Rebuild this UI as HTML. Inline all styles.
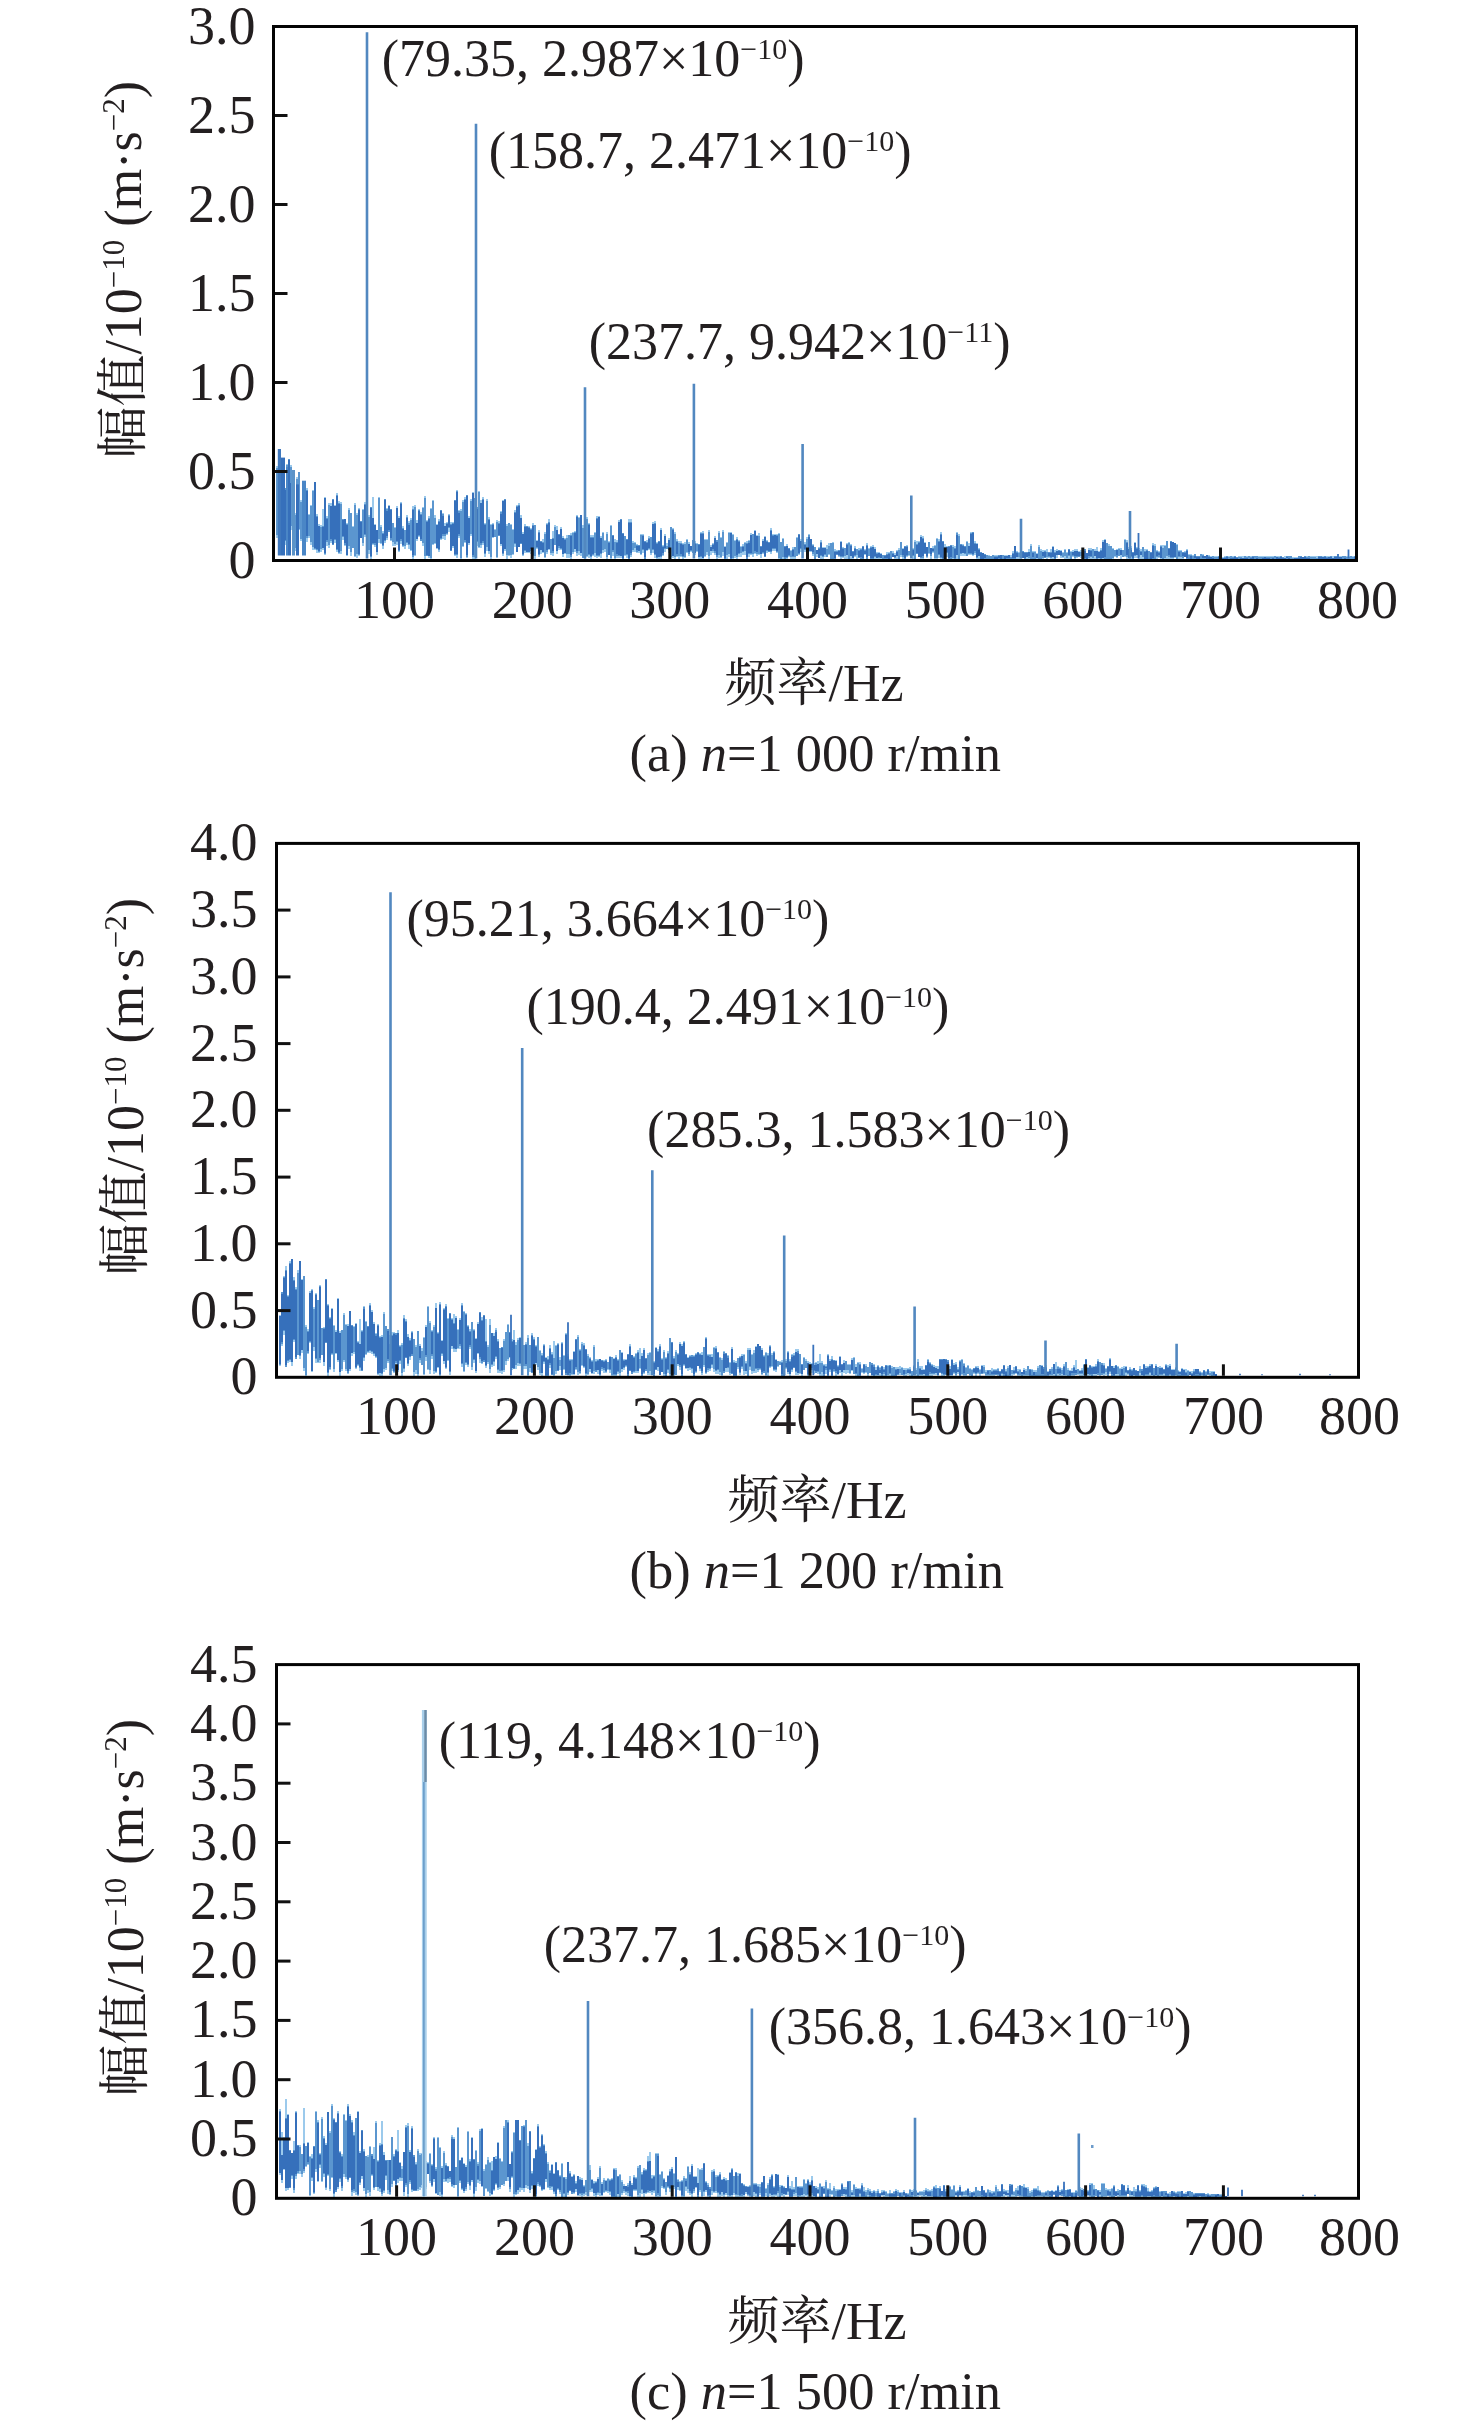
<!DOCTYPE html>
<html><head><meta charset="utf-8"><title>spectrum</title>
<style>html,body{margin:0;padding:0;background:#fff;overflow:hidden}svg{display:block;will-change:transform}</style></head>
<body><svg width="1476" height="2425" viewBox="0 0 1476 2425" font-family="'Liberation Serif', 'Noto Serif CJK SC', serif" fill="#231f20">
<rect width="1476" height="2425" fill="#fff"/>
<path d="M277.0 538.2V466.2M279.0 530.8V499.0M281.0 527.6V499.5M283.0 546.5V470.4M285.0 544.9V488.0M287.0 530.8V464.1M289.0 527.9V459.2M291.0 529.8V464.9M293.0 553.1V521.4M295.0 551.4V513.4M297.0 531.3V476.8M299.0 530.4V472.4M301.0 541.1V499.9M303.0 536.7V505.9M305.0 526.0V508.9M307.0 541.6V488.0M309.0 538.3V513.6M311.0 545.2V505.0M313.0 549.8V490.2M315.0 550.0V482.1M317.0 552.7V514.2M319.0 553.0V524.2M321.0 552.3V525.1M321.0 547.7V526.6M323.0 549.8V509.3M325.0 554.8V496.5M327.0 545.6V516.1M329.0 547.6V502.9M331.0 542.6V503.3M333.0 545.2V498.9M335.0 543.1V504.9M337.0 552.2V493.2M339.0 554.2V501.4M341.0 554.1V502.2M343.0 539.8V518.9M345.0 545.9V518.8M347.0 556.2V522.8M349.0 548.9V508.1M351.0 555.8V512.8M353.0 548.1V526.1M355.0 556.5V503.2M357.0 557.6V513.1M359.0 556.2V507.6M361.0 538.4V520.6M363.0 545.9V508.5M365.0 536.8V502.2M367.0 530.7V507.8M369.0 553.8V515.2M369.0 548.6V518.4M371.0 558.7V507.1M373.0 544.8V497.1M375.0 547.1V524.0M377.0 555.4V529.6M379.0 543.3V497.1M381.0 543.8V525.1M381.0 542.8V527.6M383.0 549.0V531.4M385.0 543.1V498.7M387.0 539.6V508.4M389.0 532.4V504.7M391.0 540.9V508.7M393.0 545.7V522.5M395.0 546.1V526.6M397.0 545.3V505.8M399.0 551.7V515.6M401.0 544.1V501.7M403.0 546.7V526.3M405.0 548.9V529.8M407.0 544.6V514.9M409.0 549.1V521.1M411.0 551.1V518.2M413.0 558.7V505.6M415.0 556.0V504.8M417.0 540.6V520.3M419.0 536.6V508.6M421.0 541.4V512.0M423.0 546.0V506.7M423.0 542.4V509.5M425.0 558.7V495.9M427.0 556.4V519.7M429.0 557.9V516.0M431.0 558.7V508.3M431.0 556.8V509.4M433.0 544.5V500.1M435.0 544.0V515.4M437.0 548.5V524.0M439.0 551.8V519.0M441.0 540.2V509.6M443.0 538.7V512.9M445.0 539.5V523.4M447.0 535.3V522.0M449.0 532.1V514.1M451.0 551.2V522.1M453.0 547.9V521.7M455.0 555.8V499.8M457.0 557.6V489.5M459.0 538.3V510.4M461.0 558.7V508.7M463.0 547.0V500.2M465.0 542.8V497.4M467.0 557.8V494.8M469.0 544.7V515.6M471.0 535.5V498.7M473.0 558.7V491.7M475.0 558.7V497.6M477.0 545.7V506.7M479.0 548.0V491.3M481.0 548.0V500.0M483.0 544.8V497.0M485.0 556.9V523.0M487.0 550.9V498.8M489.0 553.5V516.6M491.0 558.7V524.1M493.0 538.3V522.6M495.0 537.2V529.1M497.0 558.2V519.6M499.0 536.2V520.7M501.0 545.9V511.3M503.0 555.6V500.0M505.0 550.9V498.6M507.0 558.6V524.4M507.0 554.3V527.7M509.0 555.7V523.1M509.0 553.7V524.4M511.0 557.5V523.5M513.0 555.3V529.2M515.0 547.0V509.7M517.0 552.1V505.0M519.0 547.4V503.3M521.0 543.8V515.0M523.0 556.0V532.0M525.0 552.7V524.0M527.0 553.3V525.7M529.0 552.7V526.0M531.0 554.2V527.8M533.0 557.5V523.2M535.0 558.6V524.9M537.0 549.4V540.0M539.0 557.0V529.8M541.0 553.9V541.4M543.0 552.5V539.3M545.0 558.1V532.3M547.0 554.1V522.8M549.0 549.5V519.3M551.0 554.5V538.7M553.0 555.6V530.7M555.0 545.3V525.0M557.0 554.2V525.6M559.0 549.7V533.9M561.0 550.0V526.9M563.0 557.3V536.2M565.0 554.3V537.7M567.0 557.6V535.2M569.0 558.4V534.9M571.0 558.7V533.3M573.0 554.2V531.7M573.0 551.7V533.8M575.0 552.0V530.5M577.0 555.9V514.7M579.0 554.9V517.2M581.0 556.4V514.7M583.0 558.1V525.3M585.0 558.7V514.9M587.0 556.7V517.0M589.0 557.6V523.1M591.0 558.7V534.9M593.0 556.4V534.8M595.0 556.8V532.0M597.0 557.9V516.3M599.0 557.2V515.5M601.0 557.8V536.4M603.0 552.5V531.5M605.0 552.1V539.6M607.0 558.7V531.6M607.0 556.6V534.4M609.0 555.1V540.5M611.0 558.7V524.7M613.0 555.5V534.7M615.0 558.7V539.2M615.0 557.7V541.7M617.0 557.8V539.7M619.0 557.6V520.4M621.0 557.7V518.8M623.0 558.7V533.1M625.0 556.4V536.0M627.0 558.2V539.1M629.0 558.7V519.3M631.0 556.6V519.0M633.0 552.1V540.9M635.0 551.8V542.4M637.0 553.4V543.9M639.0 552.8V544.5M641.0 554.5V533.9M643.0 552.7V533.8M645.0 558.7V541.0M647.0 550.7V540.2M649.0 550.2V535.8M651.0 555.1V536.7M653.0 553.0V521.7M655.0 557.6V521.4M657.0 558.7V542.3M659.0 558.7V541.0M661.0 558.7V528.2M663.0 555.8V545.2M665.0 551.6V534.1M667.0 549.0V543.3M667.0 548.7V545.5M669.0 553.3V537.9M671.0 558.6V526.5M673.0 557.5V528.0M675.0 558.6V532.4M677.0 556.7V538.7M679.0 558.7V541.2M679.0 554.6V543.5M681.0 557.3V540.8M683.0 558.7V542.5M685.0 557.7V542.1M687.0 552.5V539.4M689.0 556.4V541.6M691.0 552.0V545.6M693.0 552.9V539.7M695.0 554.9V541.1M697.0 552.2V543.0M699.0 558.7V543.5M701.0 558.7V531.9M703.0 558.7V531.0M705.0 556.8V539.1M707.0 555.2V538.5M709.0 558.7V529.5M711.0 555.0V544.8M713.0 553.1V542.7M715.0 554.7V536.1M717.0 558.7V539.5M719.0 558.4V531.1M721.0 558.4V536.6M723.0 555.9V530.1M725.0 558.7V546.2M727.0 558.5V541.8M727.0 554.7V543.6M729.0 556.6V531.6M729.0 553.3V534.4M731.0 558.7V532.1M733.0 558.7V534.2M735.0 557.7V540.4M737.0 558.7V536.7M739.0 556.8V539.6M741.0 556.5V546.3M743.0 554.7V544.2M745.0 555.1V542.1M747.0 558.7V540.9M749.0 556.5V539.7M751.0 555.0V533.0M753.0 556.9V533.8M753.0 552.6V535.6M755.0 554.4V530.2M757.0 555.8V535.3M759.0 555.2V533.4M761.0 557.6V546.1M763.0 554.0V539.3M765.0 557.1V535.7M767.0 553.2V539.5M769.0 552.0V541.8M771.0 553.5V528.2M773.0 551.2V534.2M775.0 551.2V533.5M777.0 552.9V534.0M779.0 558.7V532.7M781.0 558.7V541.8M783.0 558.7V537.9M783.0 556.2V540.7M785.0 558.7V545.5M787.0 558.7V544.2M789.0 557.0V547.8M791.0 558.7V549.5M793.0 558.7V547.2M795.0 558.6V547.1M797.0 556.3V537.1M799.0 555.0V534.1M801.0 551.8V539.4M803.0 548.8V538.9M805.0 552.2V541.6M807.0 552.9V537.2M809.0 551.8V534.4M811.0 552.2V539.0M813.0 555.6V543.9M815.0 558.7V546.8M815.0 557.6V548.4M817.0 557.4V549.9M819.0 558.4V547.3M821.0 558.6V540.4M823.0 558.7V547.2M825.0 556.7V546.6M827.0 557.4V544.8M829.0 554.8V543.3M831.0 558.7V542.7M833.0 558.7V542.2M835.0 558.7V549.0M837.0 555.2V549.5M839.0 556.9V550.0M841.0 558.7V541.0M843.0 557.9V547.4M845.0 558.7V548.1M847.0 558.7V542.5M849.0 558.7V542.2M851.0 558.7V544.4M853.0 558.7V550.8M855.0 556.6V545.9M857.0 558.7V548.9M859.0 558.0V547.6M861.0 558.7V547.9M863.0 558.7V546.2M865.0 555.4V549.3M867.0 558.7V542.7M869.0 555.9V547.7M871.0 558.7V546.3M873.0 558.7V544.7M875.0 558.7V546.9M877.0 558.7V551.8M879.0 558.7V552.2M881.0 558.7V553.2M883.0 558.7V554.8M885.0 558.7V555.2M887.0 558.7V551.6M889.0 558.7V551.6M891.0 558.7V550.6M891.0 558.5V552.3M893.0 557.3V550.6M895.0 558.7V552.9M897.0 558.7V550.2M899.0 558.7V548.3M901.0 557.1V542.2M903.0 558.7V548.2M905.0 558.7V546.1M907.0 556.7V545.3M909.0 556.3V550.6M911.0 557.3V547.9M913.0 558.7V547.7M915.0 558.7V540.0M915.0 558.3V543.1M917.0 553.6V541.3M919.0 557.2V541.4M921.0 558.7V534.9M923.0 558.7V536.1M925.0 554.3V541.5M927.0 558.0V546.6M929.0 553.7V542.0M931.0 558.7V547.8M933.0 552.8V546.1M935.0 558.7V544.8M937.0 558.7V537.6M939.0 558.3V539.0M941.0 558.7V531.7M943.0 558.7V540.9M945.0 557.1V543.6M947.0 557.2V546.0M949.0 558.7V546.0M951.0 558.7V544.7M953.0 558.7V545.3M955.0 558.7V545.6M957.0 558.7V532.1M959.0 558.7V534.4M961.0 555.9V544.1M963.0 556.0V544.3M965.0 556.0V545.6M967.0 555.7V541.0M967.0 553.8V542.1M969.0 554.8V543.3M971.0 554.7V531.5M973.0 556.3V532.0M975.0 554.5V541.4M977.0 558.7V543.2M979.0 558.7V548.4M981.0 558.7V551.7M983.0 558.7V552.7M985.0 558.7V553.8M987.0 558.7V554.8M987.0 558.2V554.8M989.0 558.7V554.8M991.0 558.7V555.5M993.0 558.7V554.8M995.0 558.7V554.8M997.0 558.7V554.9M999.0 558.7V554.8M1001.0 558.7V554.8M1003.0 558.7V554.8M1003.0 558.7V555.9M1005.0 558.7V554.8M1007.0 558.7V554.8M1009.0 558.7V554.8M1011.0 558.7V554.9M1013.0 558.7V551.1M1015.0 558.7V545.5M1017.0 558.7V550.7M1019.0 558.7V551.6M1021.0 558.7V551.3M1023.0 558.4V550.8M1025.0 558.7V552.3M1027.0 558.7V551.5M1029.0 558.7V549.1M1031.0 558.7V544.2M1033.0 558.7V550.5M1035.0 558.7V550.7M1035.0 557.7V553.4M1037.0 558.7V552.8M1039.0 558.7V544.7M1041.0 558.7V549.1M1043.0 558.7V550.4M1045.0 557.6V550.3M1047.0 558.7V549.3M1049.0 557.8V551.5M1051.0 558.7V549.2M1053.0 558.7V545.9M1055.0 558.7V549.9M1057.0 558.1V549.4M1059.0 555.0V549.7M1061.0 557.6V550.4M1063.0 558.0V551.5M1065.0 558.7V548.5M1065.0 555.9V550.8M1067.0 558.7V551.5M1067.0 556.7V553.3M1069.0 558.6V549.0M1071.0 558.7V551.0M1073.0 557.3V549.6M1075.0 558.7V548.7M1077.0 557.9V548.7M1079.0 556.7V551.2M1081.0 557.5V550.0M1083.0 558.7V548.6M1085.0 558.7V548.8M1087.0 558.7V552.6M1089.0 558.7V548.0M1091.0 558.7V547.8M1093.0 558.7V548.9M1095.0 558.7V548.8M1097.0 558.7V546.6M1099.0 558.7V551.3M1101.0 558.7V548.2M1103.0 558.7V540.4M1105.0 558.7V539.3M1107.0 558.7V542.6M1109.0 558.7V544.4M1111.0 558.7V545.7M1113.0 558.7V547.7M1115.0 556.5V550.2M1117.0 558.1V548.9M1119.0 556.4V547.7M1121.0 558.6V547.9M1123.0 557.0V549.6M1123.0 555.5V551.2M1125.0 556.6V539.4M1127.0 558.7V540.2M1129.0 558.7V546.9M1131.0 558.7V546.1M1133.0 558.7V552.2M1135.0 558.0V541.5M1137.0 558.2V547.0M1139.0 558.7V547.5M1141.0 558.7V549.0M1143.0 558.7V546.6M1145.0 558.7V549.1M1147.0 558.7V549.4M1149.0 558.7V550.6M1151.0 558.7V551.6M1153.0 558.7V543.4M1155.0 558.7V544.4M1157.0 558.7V549.7M1159.0 557.8V551.0M1161.0 558.6V545.3M1163.0 558.7V545.4M1163.0 557.3V548.2M1165.0 558.7V544.9M1167.0 558.7V541.0M1169.0 558.7V548.1M1171.0 558.7V541.1M1173.0 558.7V542.0M1175.0 557.5V542.9M1177.0 558.7V544.3M1179.0 558.7V549.6M1181.0 558.7V550.3M1183.0 558.7V551.5M1185.0 557.3V550.8M1187.0 558.7V548.6M1189.0 558.7V554.4M1191.0 558.7V553.8M1193.0 558.7V554.7M1195.0 558.7V553.8M1197.0 558.7V556.1M1199.0 558.7V555.6M1201.0 558.7V553.5M1203.0 558.7V553.9M1205.0 558.7V555.5M1207.0 558.7V554.6M1209.0 558.7V555.0M1211.0 558.7V555.6M1213.0 558.7V555.8M1215.0 558.7V556.2M1215.0 558.7V557.3M1217.0 558.7V556.4M1219.0 558.7V556.4M1221.0 558.7V557.0M1223.0 558.7V557.0M1225.0 558.7V556.4M1227.0 558.7V556.4M1229.0 558.7V556.4M1231.0 558.7V556.4M1233.0 558.7V556.4M1235.0 558.7V556.4M1237.0 558.7V556.5M1239.0 558.7V556.4M1241.0 558.7V556.4M1243.0 558.7V556.4M1245.0 558.7V556.4M1247.0 558.7V556.4M1249.0 558.7V556.4M1251.0 558.7V556.4M1253.0 558.7V556.4M1255.0 558.7V556.4M1257.0 558.7V556.4M1259.0 558.7V556.4M1261.0 558.7V556.4M1263.0 558.7V556.4M1265.0 558.7V556.4M1267.0 558.7V556.4M1269.0 558.7V556.4M1271.0 558.7V556.4M1273.0 558.7V556.4M1275.0 558.7V556.4M1277.0 558.7V556.4M1279.0 558.7V556.4M1281.0 558.7V556.4M1283.0 558.7V556.9M1285.0 558.7V556.4M1287.0 558.7V556.4M1289.0 558.7V556.4M1291.0 558.7V556.4M1293.0 558.7V557.3M1293.0 558.7V557.8M1295.0 558.7V557.2M1297.0 558.7V556.7M1299.0 558.7V556.4M1301.0 558.7V556.4M1303.0 558.7V556.8M1305.0 558.7V556.4M1307.0 558.7V556.4M1309.0 558.7V556.4M1311.0 558.7V556.4M1313.0 558.7V556.4M1315.0 558.7V556.4M1317.0 558.7V556.4M1319.0 558.7V556.4M1321.0 558.7V556.4M1323.0 558.7V556.4M1325.0 558.7V556.4M1327.0 558.7V556.4M1329.0 558.7V556.4M1331.0 558.7V556.4M1333.0 558.7V556.4M1335.0 558.7V556.4M1337.0 558.7V556.4M1339.0 558.7V556.4M1341.0 558.7V556.4M1343.0 558.7V556.4M1345.0 558.7V556.4M1347.0 558.7V556.4M1349.0 558.7V556.4M1351.0 558.7V556.4M1353.0 558.7V556.4M1353.0 558.7V557.3M1355.0 558.7V556.4" fill="none" stroke="#9ccaec" stroke-width="2" shape-rendering="crispEdges"/>
<path d="M277.0 535.0V467.5M277.0 534.6V468.4M279.0 528.4V501.4M279.0 526.4V501.5M281.0 525.6V500.6M283.0 545.2V472.5M283.0 543.2V474.0M285.0 541.3V488.0M287.0 527.8V464.9M287.0 527.6V465.3M289.0 527.4V459.3M291.0 526.3V466.9M291.0 524.3V467.3M293.0 552.8V522.3M293.0 551.3V522.6M295.0 547.9V514.6M295.0 546.0V515.2M297.0 529.6V479.0M297.0 527.7V479.3M299.0 529.3V472.4M299.0 528.8V472.4M301.0 539.3V501.8M301.0 537.4V502.3M303.0 534.0V508.1M305.0 524.0V508.9M307.0 537.9V489.7M309.0 535.8V514.5M309.0 534.6V515.4M311.0 541.8V506.4M311.0 540.3V507.0M313.0 547.0V491.1M313.0 545.2V492.0M315.0 549.2V482.1M317.0 549.8V516.3M319.0 551.8V525.8M321.0 549.1V526.5M323.0 548.0V526.2M325.0 553.7V498.3M327.0 541.9V518.4M329.0 544.9V505.3M329.0 543.4V506.6M331.0 540.5V505.7M333.0 544.9V498.9M335.0 539.7V506.2M337.0 550.0V494.5M339.0 553.4V502.7M341.0 551.3V503.6M341.0 549.7V504.2M343.0 536.5V519.3M345.0 545.0V518.9M347.0 555.4V524.0M349.0 545.5V510.2M349.0 544.4V511.2M351.0 552.2V513.3M351.0 550.4V513.8M353.0 548.1V527.1M353.0 547.8V528.3M355.0 555.7V504.5M355.0 554.2V505.2M357.0 553.9V515.2M357.0 553.5V515.5M359.0 554.5V508.8M361.0 538.4V521.0M363.0 542.7V509.7M363.0 541.5V510.4M365.0 535.2V504.1M367.0 529.8V509.4M369.0 549.9V516.9M371.0 557.1V507.3M373.0 544.2V518.3M375.0 544.8V525.0M377.0 552.4V529.7M379.0 539.4V498.2M379.0 537.6V498.3M381.0 543.0V526.7M383.0 545.9V532.8M385.0 540.8V499.4M387.0 537.9V509.4M389.0 531.6V505.6M391.0 539.9V509.2M393.0 542.2V523.4M393.0 541.3V524.8M395.0 543.5V528.1M395.0 542.9V529.1M397.0 541.7V507.6M399.0 550.7V517.9M401.0 541.0V503.1M403.0 546.4V528.0M405.0 546.3V530.2M405.0 545.0V530.3M407.0 542.6V517.4M409.0 545.3V523.2M411.0 549.6V520.1M411.0 549.3V520.7M413.0 556.5V508.8M415.0 555.1V506.6M415.0 554.7V506.9M417.0 539.2V522.5M419.0 535.5V509.9M421.0 540.8V513.5M423.0 542.9V508.0M425.0 555.6V498.3M425.0 554.7V499.0M427.0 555.7V521.0M429.0 556.3V517.7M431.0 558.3V508.9M433.0 543.5V501.1M433.0 542.8V501.6M435.0 543.4V517.5M435.0 542.8V518.6M437.0 548.0V524.5M439.0 550.3V520.9M441.0 538.8V509.6M443.0 535.7V514.4M445.0 535.7V525.5M447.0 533.8V522.8M449.0 528.1V514.8M451.0 550.5V523.5M453.0 546.4V523.4M455.0 554.8V500.3M457.0 555.1V490.7M459.0 536.0V511.4M461.0 557.9V510.6M461.0 556.1V511.7M463.0 546.1V501.9M463.0 546.0V502.5M465.0 541.9V498.5M467.0 556.6V494.8M469.0 542.7V517.9M471.0 533.6V500.7M471.0 533.2V502.1M473.0 556.7V492.5M475.0 557.1V498.2M475.0 556.9V498.9M477.0 542.0V507.3M479.0 546.9V491.5M479.0 545.8V492.3M481.0 545.0V503.0M483.0 542.7V498.9M485.0 553.7V524.1M487.0 547.4V500.6M487.0 546.2V500.7M489.0 551.3V518.9M491.0 557.4V525.4M491.0 556.2V525.8M493.0 537.4V523.6M495.0 537.1V530.3M495.0 536.8V531.7M497.0 557.3V521.5M497.0 555.3V521.6M499.0 536.0V523.1M501.0 544.4V512.3M503.0 553.9V501.1M505.0 549.3V499.1M507.0 555.0V526.3M509.0 554.7V523.3M511.0 554.7V524.8M511.0 553.8V525.3M513.0 554.4V530.1M513.0 553.6V531.2M515.0 544.4V512.2M517.0 551.8V506.1M519.0 547.0V505.0M521.0 543.5V518.0M523.0 555.0V534.2M525.0 551.1V525.6M527.0 552.1V526.0M529.0 551.7V527.3M531.0 550.7V528.6M533.0 556.4V524.6M535.0 555.8V525.0M535.0 555.6V525.8M537.0 547.8V541.2M539.0 555.3V531.9M541.0 550.1V541.4M543.0 552.4V541.6M545.0 556.6V533.6M545.0 556.5V534.1M547.0 551.9V523.8M549.0 549.0V522.2M551.0 553.2V538.9M551.0 553.1V539.3M553.0 553.0V538.3M555.0 545.2V526.8M555.0 543.6V527.4M557.0 551.0V530.2M559.0 548.1V534.2M561.0 548.5V528.5M563.0 554.3V538.1M565.0 553.0V539.0M567.0 553.8V537.7M567.0 553.5V538.8M569.0 554.4V535.3M569.0 553.8V536.8M571.0 556.8V535.4M573.0 552.2V533.2M575.0 549.1V531.6M577.0 552.6V516.3M579.0 551.4V518.4M579.0 549.8V518.7M581.0 553.3V514.7M583.0 557.6V527.5M583.0 556.9V527.5M585.0 557.6V516.2M587.0 556.0V518.5M587.0 555.4V519.5M589.0 554.9V523.6M591.0 556.8V536.9M593.0 554.6V537.0M595.0 552.9V532.7M595.0 552.1V532.8M597.0 555.6V518.3M599.0 555.8V516.8M601.0 553.9V537.9M603.0 549.8V532.6M603.0 549.7V534.1M605.0 549.1V541.2M605.0 548.8V541.3M607.0 556.6V533.7M609.0 554.8V542.0M611.0 558.2V526.1M611.0 557.3V526.4M613.0 552.2V535.1M615.0 558.3V541.6M617.0 555.5V541.9M619.0 555.8V521.6M621.0 556.4V519.0M623.0 558.7V533.1M625.0 555.4V536.2M625.0 554.4V536.9M627.0 554.9V539.3M629.0 558.7V521.7M631.0 554.9V521.7M633.0 549.9V543.0M633.0 549.7V543.1M635.0 548.4V543.4M635.0 548.0V544.8M637.0 551.8V545.2M639.0 551.4V545.4M641.0 553.5V534.7M641.0 551.6V535.5M643.0 550.4V534.9M645.0 558.6V541.1M647.0 549.9V542.1M649.0 549.0V538.2M651.0 553.1V537.3M651.0 552.5V537.7M653.0 550.3V523.5M655.0 554.6V522.5M657.0 558.4V542.5M659.0 557.3V541.1M661.0 557.1V529.5M663.0 554.5V545.5M665.0 549.1V535.6M667.0 548.9V545.5M669.0 549.9V539.9M671.0 556.8V527.3M671.0 555.8V528.2M673.0 556.4V528.6M675.0 556.5V534.0M675.0 555.0V534.5M677.0 556.2V541.2M679.0 555.8V543.0M681.0 555.9V543.2M683.0 556.7V544.2M685.0 557.0V543.9M685.0 556.6V544.0M687.0 552.2V539.6M687.0 550.3V540.4M689.0 554.0V544.0M691.0 551.3V546.1M693.0 552.8V539.7M693.0 552.4V540.4M695.0 553.2V543.4M697.0 551.0V544.3M697.0 550.7V545.6M699.0 557.4V543.8M701.0 557.4V533.0M703.0 558.1V533.1M705.0 556.0V540.3M705.0 554.4V540.8M707.0 552.0V540.3M707.0 550.4V541.3M709.0 556.4V531.8M709.0 555.2V533.0M711.0 551.1V546.5M713.0 550.6V544.1M715.0 552.6V538.0M717.0 557.2V540.3M719.0 555.4V532.5M719.0 553.7V532.5M721.0 556.8V538.2M721.0 554.9V539.0M723.0 552.3V531.7M723.0 551.2V532.9M725.0 558.7V546.8M727.0 554.9V543.0M729.0 554.1V533.2M731.0 558.7V533.3M733.0 557.5V535.2M733.0 556.5V536.5M735.0 556.0V541.2M735.0 555.1V541.9M737.0 556.9V538.6M739.0 553.7V541.3M741.0 552.5V546.9M741.0 551.3V547.3M743.0 551.7V545.7M745.0 551.3V542.9M745.0 549.7V543.1M747.0 558.7V542.6M749.0 553.7V541.1M751.0 553.8V534.7M753.0 554.1V534.4M755.0 553.1V530.7M757.0 554.1V536.2M759.0 553.8V535.6M759.0 552.0V535.9M761.0 553.6V546.2M763.0 552.7V540.9M765.0 556.7V537.2M767.0 551.2V541.2M769.0 551.8V541.9M771.0 552.0V529.9M773.0 549.1V535.0M775.0 548.9V535.1M777.0 551.5V535.1M779.0 558.0V533.6M779.0 556.5V533.7M781.0 558.7V542.2M781.0 557.9V542.3M783.0 556.6V539.4M785.0 558.7V546.1M787.0 558.3V546.0M789.0 555.5V547.9M791.0 557.3V550.7M791.0 556.3V551.0M793.0 557.1V549.3M795.0 557.1V547.1M795.0 557.0V547.4M797.0 555.7V537.6M797.0 555.4V537.8M799.0 554.2V534.2M801.0 549.0V541.2M803.0 548.0V540.7M805.0 549.9V544.0M807.0 549.8V538.6M807.0 549.0V538.8M809.0 551.1V535.3M811.0 551.1V539.0M813.0 554.1V544.9M815.0 558.7V547.3M817.0 554.1V550.0M819.0 558.1V547.5M821.0 555.9V541.9M823.0 557.0V547.8M825.0 555.1V547.9M827.0 556.7V548.5M827.0 556.7V550.0M829.0 554.3V545.5M829.0 554.3V545.8M831.0 558.7V542.9M831.0 557.5V543.5M833.0 558.7V543.1M833.0 557.7V544.4M835.0 558.7V550.6M837.0 554.5V550.9M839.0 556.2V550.3M841.0 557.4V541.8M843.0 556.5V548.3M845.0 556.1V548.3M845.0 555.5V548.7M847.0 555.2V544.4M849.0 558.7V543.0M849.0 558.5V544.0M851.0 556.0V545.4M853.0 558.3V551.1M855.0 556.0V547.9M857.0 555.3V549.1M857.0 555.1V550.3M859.0 558.0V549.7M861.0 558.7V548.9M863.0 558.6V546.2M865.0 554.4V549.6M867.0 558.6V544.6M869.0 555.8V548.6M869.0 555.7V548.9M871.0 558.7V547.1M873.0 558.7V546.6M875.0 557.4V548.8M877.0 558.2V552.6M879.0 557.9V552.9M881.0 558.4V554.3M883.0 558.7V555.2M883.0 558.0V556.0M885.0 558.7V555.2M887.0 558.7V553.8M889.0 558.7V553.1M891.0 558.7V551.1M893.0 557.2V552.7M895.0 557.7V554.6M897.0 556.3V550.8M899.0 558.7V550.1M899.0 558.6V550.2M901.0 555.1V542.2M901.0 554.2V543.2M903.0 557.2V548.8M905.0 558.7V546.1M907.0 556.4V546.2M909.0 555.3V550.6M909.0 555.1V551.4M911.0 554.4V550.1M913.0 556.3V549.4M915.0 558.7V542.2M917.0 553.5V543.6M919.0 556.7V542.2M921.0 557.6V537.1M923.0 557.9V537.8M925.0 553.7V543.0M927.0 556.8V547.2M929.0 553.4V542.3M929.0 551.7V542.6M931.0 555.8V547.9M933.0 551.5V547.9M935.0 558.1V545.7M935.0 556.3V546.1M937.0 557.9V539.1M937.0 557.8V539.3M939.0 555.0V541.3M941.0 558.1V533.6M943.0 558.7V541.0M945.0 553.9V546.7M945.0 553.7V547.7M947.0 553.4V547.3M949.0 558.5V546.1M951.0 558.7V544.9M953.0 558.4V546.9M953.0 557.2V547.1M955.0 558.7V547.6M957.0 555.4V533.2M959.0 558.7V535.6M959.0 558.0V536.7M961.0 553.6V544.3M963.0 552.7V545.3M965.0 554.3V546.2M967.0 555.7V541.5M969.0 553.7V545.6M971.0 553.7V532.6M973.0 555.3V532.4M975.0 553.2V543.0M977.0 557.6V544.3M979.0 556.1V548.7M981.0 558.7V552.2M983.0 558.7V552.7M985.0 558.6V554.3M987.0 558.7V554.8M989.0 558.7V555.5M989.0 557.9V556.4M991.0 558.7V556.3M991.0 558.7V556.6M993.0 558.7V554.8M993.0 558.7V555.2M995.0 558.7V556.1M997.0 558.7V555.6M999.0 558.7V554.8M1001.0 558.7V554.8M1003.0 558.7V554.8M1005.0 558.7V555.7M1007.0 558.7V555.5M1009.0 558.7V554.8M1011.0 558.7V556.5M1011.0 558.7V556.8M1013.0 558.7V552.7M1015.0 558.7V546.0M1017.0 557.2V552.4M1019.0 556.8V552.9M1019.0 555.8V552.9M1021.0 558.3V551.6M1021.0 557.2V552.8M1023.0 558.3V551.4M1025.0 558.7V552.4M1027.0 556.9V551.7M1029.0 557.6V551.6M1031.0 558.7V545.7M1031.0 557.8V546.6M1033.0 558.7V552.4M1035.0 558.5V552.1M1037.0 558.1V553.7M1039.0 558.7V546.8M1039.0 558.3V547.3M1041.0 558.5V550.5M1041.0 557.1V551.9M1043.0 557.9V551.6M1045.0 557.5V551.0M1047.0 556.9V551.6M1047.0 556.4V552.6M1049.0 557.1V552.3M1051.0 557.7V551.7M1053.0 557.2V546.5M1055.0 558.6V552.3M1057.0 555.3V551.2M1059.0 554.9V550.4M1061.0 555.5V551.2M1063.0 557.4V552.6M1063.0 557.1V553.8M1065.0 556.3V550.1M1067.0 558.3V552.8M1069.0 556.1V549.3M1071.0 558.7V551.6M1071.0 557.8V552.3M1073.0 556.2V551.6M1075.0 557.5V551.0M1077.0 557.2V550.8M1079.0 556.5V551.6M1081.0 556.3V551.9M1081.0 555.3V552.9M1083.0 558.6V550.6M1083.0 558.3V551.7M1085.0 558.7V549.4M1087.0 558.7V552.9M1089.0 557.8V549.6M1091.0 557.0V550.2M1093.0 557.6V549.4M1093.0 556.1V550.5M1095.0 556.1V550.8M1097.0 558.5V551.0M1099.0 558.1V551.7M1101.0 558.7V550.2M1103.0 558.2V542.0M1105.0 558.7V540.3M1107.0 558.7V543.4M1107.0 557.1V543.5M1109.0 558.7V546.4M1109.0 558.1V547.6M1111.0 558.7V545.9M1111.0 558.0V546.3M1113.0 558.0V548.6M1113.0 556.6V548.8M1115.0 556.3V550.2M1115.0 555.3V550.5M1117.0 556.9V550.1M1119.0 555.7V548.9M1119.0 555.5V549.5M1121.0 555.4V549.6M1123.0 556.7V550.2M1125.0 556.4V540.3M1125.0 555.6V540.3M1127.0 557.2V542.4M1129.0 558.0V548.7M1131.0 557.0V548.4M1133.0 558.7V552.2M1135.0 555.9V543.0M1137.0 554.9V547.6M1139.0 557.0V549.8M1139.0 555.2V550.7M1141.0 555.3V550.6M1143.0 556.5V546.8M1143.0 556.2V547.3M1145.0 558.7V550.9M1147.0 558.7V549.8M1149.0 558.7V551.4M1149.0 558.7V551.5M1151.0 558.7V551.9M1153.0 558.7V545.2M1155.0 558.7V546.2M1155.0 558.2V546.2M1157.0 556.7V550.6M1159.0 556.8V552.2M1161.0 557.9V545.9M1163.0 558.7V547.5M1165.0 557.8V545.7M1165.0 557.4V547.0M1167.0 556.2V541.0M1167.0 555.5V541.9M1169.0 556.7V548.4M1171.0 558.3V541.2M1173.0 558.2V542.0M1175.0 557.0V542.9M1177.0 558.7V544.7M1177.0 558.4V546.1M1179.0 557.2V550.6M1181.0 557.3V551.1M1181.0 555.8V552.3M1183.0 557.6V552.0M1185.0 556.8V551.8M1187.0 558.7V549.6M1189.0 558.7V555.2M1189.0 558.7V555.6M1191.0 558.7V555.3M1193.0 558.7V556.2M1193.0 558.7V556.6M1195.0 558.7V554.4M1197.0 558.7V556.2M1199.0 558.7V556.3M1201.0 558.7V553.5M1201.0 558.1V553.7M1203.0 558.7V554.6M1205.0 558.7V555.6M1207.0 558.7V554.8M1209.0 558.7V556.0M1211.0 558.7V557.0M1213.0 558.7V556.4M1215.0 558.7V556.5M1217.0 558.7V557.4M1217.0 558.7V557.7M1219.0 558.7V556.4M1221.0 558.7V557.2M1223.0 558.7V558.0M1225.0 558.7V556.9M1227.0 558.7V556.4M1229.0 558.7V557.3M1229.0 558.7V557.6M1231.0 558.7V556.4M1233.0 558.7V557.4M1235.0 558.7V556.4M1237.0 558.7V556.6M1239.0 558.7V556.5M1239.0 558.7V557.6M1241.0 558.7V557.3M1243.0 558.7V557.5M1245.0 558.7V556.4M1247.0 558.7V556.7M1249.0 558.7V556.4M1249.0 558.7V557.7M1251.0 558.7V556.6M1253.0 558.7V556.4M1255.0 558.7V556.4M1255.0 558.6V556.6M1257.0 558.7V556.4M1259.0 558.7V557.1M1259.0 558.7V557.9M1261.0 558.7V557.3M1261.0 558.7V557.7M1263.0 558.7V556.8M1265.0 558.7V556.7M1267.0 558.7V557.3M1269.0 558.7V557.1M1271.0 558.7V557.0M1271.0 558.7V557.9M1273.0 558.7V556.8M1275.0 558.7V556.4M1275.0 558.3V556.8M1277.0 558.7V556.5M1279.0 558.7V557.2M1281.0 558.7V556.4M1283.0 558.7V557.3M1285.0 558.7V557.8M1287.0 558.7V556.4M1289.0 558.7V556.4M1291.0 558.7V556.4M1291.0 558.7V557.6M1293.0 558.7V557.8M1295.0 558.7V557.9M1297.0 558.7V557.6M1299.0 558.7V556.4M1301.0 558.7V556.4M1303.0 558.7V556.8M1305.0 558.7V556.4M1307.0 558.7V557.2M1309.0 558.7V556.4M1311.0 558.7V556.8M1311.0 558.7V558.0M1313.0 558.7V556.7M1313.0 558.7V558.0M1315.0 558.7V557.1M1315.0 558.7V558.2M1317.0 558.7V557.6M1317.0 558.7V557.7M1319.0 558.7V556.4M1321.0 558.7V556.4M1323.0 558.7V556.6M1325.0 558.7V556.4M1327.0 558.7V556.7M1329.0 558.7V556.8M1331.0 558.7V556.4M1333.0 558.7V557.8M1335.0 558.7V556.4M1337.0 558.7V556.4M1339.0 558.7V557.1M1341.0 558.7V556.5M1343.0 558.7V556.4M1343.0 558.7V557.6M1345.0 558.7V556.4M1347.0 558.7V557.3M1347.0 558.7V557.5M1349.0 558.7V557.0M1349.0 558.7V557.4M1351.0 558.7V556.4M1351.0 558.7V557.1M1353.0 558.7V557.2M1355.0 558.7V556.4" fill="none" stroke="#5b96cf" stroke-width="2" shape-rendering="crispEdges"/>
<path d="M281.0 524.6V500.7M285.0 539.6V489.5M289.0 526.5V460.1M303.0 533.3V508.3M305.0 522.1V510.0M307.0 536.4V491.1M315.0 547.5V482.2M317.0 548.8V516.5M319.0 550.9V526.1M323.0 547.6V527.4M325.0 552.8V498.3M327.0 540.3V519.0M331.0 538.7V506.0M333.0 544.0V500.1M335.0 539.4V506.4M337.0 548.7V495.6M339.0 551.5V504.0M343.0 535.5V519.7M345.0 543.4V519.1M347.0 555.2V525.1M359.0 553.9V509.9M361.0 538.0V521.6M365.0 533.8V505.4M367.0 529.1V509.4M371.0 556.3V507.6M373.0 543.0V518.4M375.0 542.9V525.1M377.0 551.9V529.7M383.0 545.4V533.5M385.0 540.1V500.3M387.0 536.2V510.8M389.0 530.3V506.4M391.0 538.3V510.2M397.0 541.4V508.1M399.0 549.9V518.4M401.0 539.4V503.9M403.0 544.5V528.8M407.0 541.9V517.9M409.0 543.6V524.5M413.0 555.0V509.8M417.0 538.7V523.2M419.0 534.7V511.1M421.0 539.4V514.7M427.0 555.3V522.3M429.0 555.6V518.8M437.0 547.8V525.4M439.0 549.0V521.7M441.0 537.6V510.6M443.0 534.0V515.6M445.0 534.3V526.2M447.0 532.5V523.7M449.0 527.0V515.6M451.0 550.0V524.9M453.0 545.8V524.4M455.0 553.6V500.8M457.0 553.9V492.1M459.0 534.3V512.7M465.0 540.2V499.5M467.0 554.7V495.6M469.0 542.6V517.9M473.0 555.3V492.6M477.0 540.8V508.6M481.0 543.2V503.3M483.0 541.4V499.5M485.0 553.3V525.0M489.0 551.2V520.1M493.0 537.3V524.8M499.0 535.4V523.7M501.0 543.5V513.6M503.0 553.4V501.4M505.0 549.3V499.5M515.0 542.7V513.0M517.0 551.6V507.0M519.0 546.7V505.7M521.0 542.8V518.1M523.0 554.3V534.2M525.0 549.5V527.0M527.0 552.0V527.4M529.0 551.7V527.7M531.0 548.7V529.9M533.0 555.4V525.6M537.0 547.3V541.3M539.0 553.6V533.1M541.0 549.8V541.8M543.0 551.6V542.6M547.0 550.0V524.9M549.0 548.7V522.9M553.0 551.3V538.9M557.0 550.5V530.2M559.0 546.1V535.4M561.0 547.8V529.1M563.0 553.6V538.2M565.0 553.0V539.6M571.0 555.0V536.3M575.0 548.8V533.0M577.0 550.9V516.7M581.0 552.9V514.7M585.0 555.9V517.2M589.0 554.1V524.5M591.0 556.0V537.9M593.0 554.0V538.3M597.0 554.9V518.9M599.0 555.1V517.3M601.0 552.6V538.4M609.0 554.5V542.7M613.0 550.3V536.4M617.0 554.2V542.7M619.0 555.0V522.2M621.0 556.0V519.6M623.0 557.9V533.7M627.0 553.5V539.7M629.0 557.6V522.6M631.0 552.9V522.7M637.0 549.9V546.2M639.0 551.0V546.2M643.0 549.0V535.5M645.0 556.9V541.5M647.0 549.7V543.3M649.0 548.3V539.2M653.0 549.3V524.4M655.0 554.2V523.7M657.0 557.1V543.9M659.0 557.1V542.4M661.0 556.4V530.3M663.0 553.3V546.9M665.0 548.1V535.6M669.0 549.8V539.9M673.0 555.8V529.7M677.0 554.4V541.7M681.0 554.2V543.5M683.0 556.4V544.5M689.0 552.4V544.4M691.0 549.7V546.2M695.0 552.5V543.8M699.0 556.8V545.2M701.0 556.2V533.9M703.0 557.6V534.3M711.0 550.7V547.0M713.0 548.8V545.3M715.0 551.3V538.3M717.0 555.4V541.7M725.0 557.9V547.1M731.0 558.1V533.4M737.0 555.0V540.0M739.0 552.8V542.3M743.0 550.9V547.0M747.0 556.9V543.5M749.0 553.0V542.5M751.0 553.0V534.7M755.0 551.4V531.2M757.0 552.1V536.4M761.0 553.5V547.1M763.0 552.2V541.2M765.0 556.1V537.2M767.0 549.9V542.3M769.0 551.4V543.2M771.0 550.6V530.9M773.0 548.1V535.8M775.0 548.1V535.3M777.0 551.1V536.1M785.0 556.9V546.8M787.0 556.6V546.4M789.0 555.4V548.7M793.0 556.2V549.5M799.0 553.3V534.8M801.0 548.2V541.4M803.0 546.4V541.8M805.0 548.7V544.6M809.0 550.6V536.8M811.0 551.1V539.0M813.0 552.2V546.2M817.0 553.9V550.1M819.0 558.0V548.5M821.0 554.7V543.2M823.0 556.0V547.8M825.0 554.2V548.3M835.0 558.3V552.0M837.0 554.0V552.2M839.0 555.3V551.4M841.0 556.0V542.0M843.0 555.7V548.9M847.0 554.7V544.5M851.0 555.9V545.9M853.0 558.1V551.9M855.0 555.1V548.9M859.0 557.3V550.9M861.0 557.4V549.8M863.0 557.5V547.0M865.0 554.0V551.0M867.0 557.2V545.6M871.0 558.4V547.6M873.0 558.2V547.0M875.0 556.4V549.4M877.0 558.0V553.8M879.0 557.4V553.0M881.0 558.3V554.4M885.0 557.9V555.9M887.0 557.6V555.0M889.0 558.7V554.2M893.0 557.1V553.8M895.0 557.1V555.3M897.0 555.9V552.0M903.0 555.3V549.0M905.0 558.1V547.2M907.0 555.0V547.2M911.0 554.3V551.1M913.0 554.5V550.4M917.0 552.6V545.0M919.0 556.5V543.2M921.0 557.0V537.1M923.0 556.4V539.0M925.0 552.6V543.3M927.0 555.5V547.3M931.0 554.2V547.9M933.0 551.3V548.9M939.0 554.2V542.0M941.0 556.5V534.6M943.0 558.0V541.6M947.0 552.3V547.3M949.0 557.7V547.1M951.0 557.1V546.0M955.0 558.2V548.9M957.0 554.8V534.6M961.0 552.7V544.9M963.0 552.6V545.5M965.0 553.0V547.1M969.0 552.5V546.0M971.0 553.0V533.9M973.0 553.7V532.5M975.0 551.3V543.9M977.0 556.9V544.3M979.0 555.7V549.5M981.0 558.7V552.5M983.0 558.7V553.2M985.0 558.0V555.4M995.0 558.7V557.0M997.0 558.7V556.6M999.0 558.3V555.5M1001.0 558.6V555.2M1005.0 558.7V556.2M1007.0 558.2V555.6M1009.0 558.2V555.1M1013.0 558.4V553.7M1015.0 558.3V546.2M1017.0 557.0V553.0M1023.0 558.1V552.3M1025.0 558.1V552.5M1027.0 556.5V552.5M1029.0 555.8V552.4M1033.0 557.2V553.3M1037.0 558.0V554.2M1043.0 556.0V551.6M1045.0 557.2V551.8M1049.0 556.4V552.9M1051.0 556.9V552.7M1053.0 557.2V547.4M1055.0 557.7V553.3M1057.0 554.7V551.4M1059.0 554.5V550.8M1061.0 554.6V551.4M1069.0 554.7V550.1M1073.0 555.4V552.1M1075.0 556.1V551.1M1077.0 555.9V550.8M1079.0 556.0V551.9M1085.0 558.1V550.6M1087.0 558.7V553.2M1089.0 556.3V549.8M1091.0 555.8V551.3M1095.0 556.0V551.3M1097.0 557.6V551.1M1099.0 557.7V552.1M1101.0 557.5V551.1M1103.0 558.0V542.3M1105.0 557.2V540.3M1117.0 555.3V550.1M1121.0 555.3V550.0M1127.0 555.3V542.7M1129.0 557.8V549.3M1131.0 555.6V549.5M1133.0 557.5V553.2M1135.0 554.7V543.2M1137.0 554.8V549.0M1141.0 555.1V552.0M1145.0 558.6V552.3M1147.0 558.6V551.3M1151.0 558.7V552.9M1153.0 558.3V546.0M1157.0 556.0V552.0M1159.0 555.1V552.8M1161.0 557.8V546.8M1169.0 554.7V548.8M1171.0 557.2V542.4M1173.0 557.4V542.0M1175.0 556.8V542.9M1179.0 556.1V551.6M1183.0 555.8V553.0M1185.0 556.7V552.9M1187.0 558.1V551.1M1191.0 558.7V556.4M1195.0 558.0V555.7M1197.0 558.7V557.2M1199.0 558.7V556.9M1203.0 558.3V556.1M1205.0 558.2V556.1M1207.0 558.7V555.0M1209.0 558.7V556.6M1211.0 558.7V557.3M1213.0 558.7V557.7M1219.0 558.6V556.8M1221.0 558.7V558.1M1223.0 558.7V558.0M1225.0 558.7V557.5M1227.0 558.7V557.2M1231.0 558.7V557.9M1233.0 558.7V557.6M1235.0 558.7V556.9M1237.0 558.7V557.9M1241.0 558.7V557.6M1243.0 558.7V557.7M1245.0 558.7V557.5M1247.0 558.7V557.5M1251.0 558.7V557.7M1253.0 558.7V556.5M1257.0 558.7V557.8M1263.0 558.7V557.5M1265.0 558.7V557.3M1267.0 558.7V557.8M1269.0 558.7V557.9M1273.0 558.7V557.7M1277.0 558.7V557.3M1279.0 558.7V557.6M1281.0 558.7V557.4M1283.0 558.7V557.7M1285.0 558.7V557.8M1287.0 558.4V556.9M1289.0 558.7V557.6M1295.0 558.7V557.9M1297.0 558.7V557.8M1299.0 558.7V557.8M1301.0 558.7V557.1M1303.0 558.7V556.9M1305.0 558.7V556.7M1307.0 558.7V557.7M1309.0 558.7V557.8M1319.0 558.7V557.3M1321.0 558.7V556.5M1323.0 558.7V556.7M1325.0 558.7V556.7M1327.0 558.7V557.6M1329.0 558.7V557.4M1331.0 558.5V556.7M1333.0 558.7V557.9M1335.0 558.7V556.7M1337.0 558.7V556.6M1339.0 558.7V557.3M1341.0 558.7V557.2M1345.0 558.7V557.7M1355.0 558.5V556.5" fill="none" stroke="#3670bb" stroke-width="2" shape-rendering="crispEdges"/>
<path d="M367.0 558.5V32.3 M476.0 558.5V123.8 M585.0 558.5V387.3 M693.9 558.5V383.7 M802.6 558.5V444.0 M911.3 558.5V495.5 M1021.0 558.5V518.7 M1130.0 558.5V511.0" fill="none" stroke="#5288c0" stroke-width="2.6"/>
<rect x="277.8" y="449" width="3.2" height="106.5" fill="#3f78bd"/>
<rect x="281" y="457.6" width="4.0" height="97.9" fill="#3670bb"/>
<rect x="286" y="467" width="2.0" height="88.5" fill="#4a86c6"/>
<rect x="288" y="483" width="3.0" height="72.5" fill="#3670bb"/>
<rect x="292" y="470" width="3.0" height="85.5" fill="#5b93c8"/>
<rect x="296" y="484.4" width="3.0" height="71.1" fill="#3670bb"/>
<rect x="302" y="480.7" width="4.0" height="74.8" fill="#4a86c6"/>
<path d="M1348.5 558.5V549.5 M1138.5 558.5V533.0 M1338.0 558.5V554.0" fill="none" stroke="#3a73bd" stroke-width="1.8"/>
<rect x="273.5" y="26.5" width="1083.0" height="534.0" fill="none" stroke="#030303" stroke-width="3"/>
<line x1="394.5" y1="559.0" x2="394.5" y2="547.5" stroke="#111111" stroke-width="3"/>
<line x1="532.2" y1="559.0" x2="532.2" y2="547.5" stroke="#111111" stroke-width="3"/>
<line x1="669.8" y1="559.0" x2="669.8" y2="547.5" stroke="#111111" stroke-width="3"/>
<line x1="807.5" y1="559.0" x2="807.5" y2="547.5" stroke="#111111" stroke-width="3"/>
<line x1="945.2" y1="559.0" x2="945.2" y2="547.5" stroke="#111111" stroke-width="3"/>
<line x1="1082.8" y1="559.0" x2="1082.8" y2="547.5" stroke="#111111" stroke-width="3"/>
<line x1="1220.5" y1="559.0" x2="1220.5" y2="547.5" stroke="#111111" stroke-width="3"/>
<text x="394.5" y="617.5" text-anchor="middle" font-size="54">100</text>
<text x="532.2" y="617.5" text-anchor="middle" font-size="54">200</text>
<text x="669.8" y="617.5" text-anchor="middle" font-size="54">300</text>
<text x="807.5" y="617.5" text-anchor="middle" font-size="54">400</text>
<text x="945.2" y="617.5" text-anchor="middle" font-size="54">500</text>
<text x="1082.8" y="617.5" text-anchor="middle" font-size="54">600</text>
<text x="1220.5" y="617.5" text-anchor="middle" font-size="54">700</text>
<text x="1357.5" y="617.5" text-anchor="middle" font-size="54">800</text>
<text x="255.5" y="577.5" text-anchor="end" font-size="54">0</text>
<line x1="275.0" y1="471.5" x2="287.5" y2="471.5" stroke="#111111" stroke-width="3"/>
<text x="255.5" y="488.5" text-anchor="end" font-size="54">0.5</text>
<line x1="275.0" y1="382.5" x2="287.5" y2="382.5" stroke="#111111" stroke-width="3"/>
<text x="255.5" y="399.5" text-anchor="end" font-size="54">1.0</text>
<line x1="275.0" y1="293.5" x2="287.5" y2="293.5" stroke="#111111" stroke-width="3"/>
<text x="255.5" y="310.5" text-anchor="end" font-size="54">1.5</text>
<line x1="275.0" y1="204.5" x2="287.5" y2="204.5" stroke="#111111" stroke-width="3"/>
<text x="255.5" y="221.5" text-anchor="end" font-size="54">2.0</text>
<line x1="275.0" y1="115.5" x2="287.5" y2="115.5" stroke="#111111" stroke-width="3"/>
<text x="255.5" y="132.5" text-anchor="end" font-size="54">2.5</text>
<text x="255.5" y="43.5" text-anchor="end" font-size="54">3.0</text>
<text transform="translate(141 269.8) rotate(-90)" text-anchor="middle" font-size="52">幅值/10<tspan dy="-17" font-size="31">−10</tspan><tspan dy="17"> (m·s</tspan><tspan dy="-17" font-size="31">−2</tspan><tspan dy="17">)</tspan></text>
<text x="814.0" y="701.0" text-anchor="middle" font-size="52">频率/Hz</text>
<text x="629.5" y="771.0" font-size="52.4">(a) <tspan font-style="italic">n</tspan>=1 000 r/min</text>
<text x="381.7" y="76.4" font-size="52">(79.35, 2.987×10<tspan dy="-17" font-size="30">−10</tspan><tspan dy="17">)</tspan></text>
<text x="488.7" y="167.9" font-size="52">(158.7, 2.471×10<tspan dy="-17" font-size="30">−10</tspan><tspan dy="17">)</tspan></text>
<text x="588.7" y="358.5" font-size="52">(237.7, 9.942×10<tspan dy="-17" font-size="30">−11</tspan><tspan dy="17">)</tspan></text>
<path d="M280.0 1366.0V1315.1M282.0 1346.0V1292.3M284.0 1334.8V1275.9M286.0 1366.8V1266.4M288.0 1363.3V1295.4M290.0 1361.5V1260.7M292.0 1365.6V1258.5M294.0 1342.2V1277.4M296.0 1358.8V1287.1M298.0 1355.3V1270.3M300.0 1359.2V1260.5M302.0 1352.9V1278.6M304.0 1370.8V1275.6M304.0 1367.1V1277.1M306.0 1375.5V1324.5M308.0 1354.1V1329.1M310.0 1342.9V1290.6M312.0 1371.7V1288.9M314.0 1350.6V1307.3M316.0 1363.0V1293.4M318.0 1362.8V1299.8M318.0 1361.2V1300.3M320.0 1363.4V1285.3M322.0 1355.3V1327.6M322.0 1354.5V1328.5M324.0 1365.9V1327.2M326.0 1343.4V1278.8M328.0 1375.5V1303.7M330.0 1370.0V1316.6M332.0 1355.1V1308.0M334.0 1372.3V1324.5M336.0 1353.7V1330.4M338.0 1361.6V1297.6M340.0 1375.5V1331.1M342.0 1370.8V1330.2M344.0 1362.0V1312.7M346.0 1371.2V1324.2M346.0 1367.1V1325.6M348.0 1373.8V1323.6M350.0 1370.6V1311.0M352.0 1356.1V1324.8M354.0 1354.1V1326.2M356.0 1369.2V1323.0M358.0 1365.7V1341.2M360.0 1370.9V1318.6M362.0 1371.0V1330.2M364.0 1360.9V1306.3M366.0 1355.0V1320.5M368.0 1352.7V1325.5M370.0 1353.4V1303.1M372.0 1353.7V1309.8M374.0 1356.3V1322.2M376.0 1357.5V1332.7M378.0 1375.1V1323.6M380.0 1375.5V1335.5M382.0 1375.5V1334.7M384.0 1371.7V1311.9M386.0 1369.7V1325.7M388.0 1362.8V1328.9M390.0 1363.2V1335.0M392.0 1371.4V1332.0M394.0 1372.8V1331.6M396.0 1365.0V1332.6M398.0 1372.0V1330.3M400.0 1364.4V1344.7M402.0 1375.5V1343.3M402.0 1371.8V1346.5M404.0 1371.9V1315.4M406.0 1357.7V1318.6M408.0 1365.7V1334.3M410.0 1360.1V1338.4M412.0 1356.1V1331.4M414.0 1375.5V1338.8M416.0 1373.8V1345.2M418.0 1375.5V1330.7M420.0 1362.8V1343.5M422.0 1365.0V1348.3M422.0 1364.5V1350.8M424.0 1374.9V1337.2M426.0 1360.8V1324.5M428.0 1369.8V1306.1M430.0 1374.4V1321.1M432.0 1358.7V1330.0M434.0 1373.6V1325.3M436.0 1373.0V1303.2M438.0 1367.9V1332.4M440.0 1375.5V1301.7M442.0 1355.5V1339.6M444.0 1364.2V1307.8M446.0 1369.2V1303.9M448.0 1360.9V1317.9M448.0 1360.3V1320.0M450.0 1374.5V1312.7M452.0 1349.3V1317.5M454.0 1352.0V1313.5M456.0 1352.1V1315.8M458.0 1349.2V1328.8M460.0 1348.5V1318.0M462.0 1367.1V1302.5M464.0 1371.7V1311.3M464.0 1370.2V1312.1M466.0 1364.6V1313.1M468.0 1366.5V1325.3M470.0 1349.2V1328.8M472.0 1369.9V1321.8M474.0 1362.5V1328.7M476.0 1373.1V1338.3M478.0 1353.9V1322.0M480.0 1362.5V1312.3M482.0 1363.9V1317.2M484.0 1362.1V1315.2M486.0 1368.3V1318.9M488.0 1364.4V1345.0M490.0 1372.9V1319.1M492.0 1366.6V1332.7M494.0 1365.8V1333.4M496.0 1358.7V1328.1M498.0 1372.5V1338.7M500.0 1372.8V1348.4M502.0 1373.5V1347.0M504.0 1371.5V1338.7M504.0 1368.6V1342.2M506.0 1364.8V1331.8M508.0 1361.4V1324.4M510.0 1357.7V1332.1M512.0 1369.7V1338.6M514.0 1368.9V1329.8M516.0 1369.1V1342.4M518.0 1365.8V1337.7M520.0 1366.2V1337.3M522.0 1365.6V1347.8M524.0 1368.6V1344.5M526.0 1369.1V1341.9M528.0 1375.5V1335.2M530.0 1371.6V1345.0M532.0 1372.9V1332.5M534.0 1372.7V1336.8M536.0 1364.6V1344.7M538.0 1370.1V1336.6M540.0 1375.2V1349.7M542.0 1375.5V1352.9M544.0 1364.2V1343.7M546.0 1375.5V1356.8M548.0 1375.5V1356.1M550.0 1368.1V1345.3M552.0 1375.0V1352.3M554.0 1375.5V1341.1M556.0 1373.9V1344.6M558.0 1371.2V1343.0M560.0 1370.0V1357.4M560.0 1364.6V1360.2M562.0 1375.5V1341.7M564.0 1369.7V1355.0M566.0 1374.7V1332.8M568.0 1374.5V1354.3M570.0 1375.5V1358.9M572.0 1374.5V1359.1M574.0 1374.6V1351.1M576.0 1369.6V1338.9M578.0 1375.3V1334.9M580.0 1374.2V1349.3M582.0 1366.4V1341.6M584.0 1367.5V1342.9M586.0 1375.5V1348.5M588.0 1374.8V1353.8M590.0 1371.7V1357.2M592.0 1373.7V1360.4M594.0 1374.1V1344.9M596.0 1372.2V1359.4M598.0 1373.5V1358.6M600.0 1375.5V1358.7M602.0 1371.3V1359.5M604.0 1372.9V1359.6M606.0 1372.6V1359.1M608.0 1369.8V1362.3M608.0 1368.6V1363.0M610.0 1372.8V1356.4M612.0 1375.5V1356.9M614.0 1375.5V1357.7M616.0 1375.5V1355.2M618.0 1374.1V1358.6M620.0 1375.5V1349.6M622.0 1372.0V1351.8M624.0 1370.1V1358.8M626.0 1366.8V1359.4M628.0 1375.5V1354.0M630.0 1371.4V1344.3M632.0 1373.6V1354.9M634.0 1373.1V1356.1M636.0 1373.2V1352.8M638.0 1372.5V1350.4M640.0 1369.2V1347.5M640.0 1366.2V1359.9M642.0 1375.5V1353.2M644.0 1373.7V1348.0M646.0 1371.2V1358.1M648.0 1375.1V1352.8M650.0 1374.9V1351.9M652.0 1371.3V1345.6M654.0 1375.5V1360.6M656.0 1370.4V1346.5M658.0 1371.0V1348.7M660.0 1374.8V1343.9M662.0 1372.2V1358.1M664.0 1375.5V1349.9M666.0 1375.5V1357.1M668.0 1372.9V1350.5M670.0 1375.5V1337.5M672.0 1375.5V1341.8M674.0 1375.5V1355.7M676.0 1375.4V1349.9M678.0 1366.1V1353.1M680.0 1369.6V1341.8M682.0 1375.5V1344.1M684.0 1365.6V1341.1M686.0 1368.6V1354.0M688.0 1371.1V1357.4M690.0 1369.6V1355.1M692.0 1372.6V1355.0M694.0 1375.5V1355.3M696.0 1372.7V1352.9M698.0 1366.2V1352.1M700.0 1370.9V1353.1M702.0 1375.0V1352.4M704.0 1367.2V1346.5M706.0 1373.6V1337.1M708.0 1372.0V1353.9M710.0 1370.7V1353.6M712.0 1368.3V1354.4M714.0 1372.2V1347.2M716.0 1374.4V1345.6M718.0 1374.2V1352.0M720.0 1374.5V1357.3M722.0 1375.5V1358.0M724.0 1373.1V1351.4M726.0 1372.3V1353.1M728.0 1371.6V1354.5M730.0 1375.1V1362.3M730.0 1372.7V1363.6M732.0 1374.0V1347.2M734.0 1375.5V1360.2M736.0 1375.5V1360.9M738.0 1369.4V1357.7M740.0 1374.5V1356.4M742.0 1369.4V1354.1M744.0 1374.6V1353.9M746.0 1373.9V1360.8M748.0 1375.5V1348.2M750.0 1370.1V1347.5M752.0 1373.6V1354.1M754.0 1373.1V1350.4M754.0 1370.1V1354.9M756.0 1373.1V1346.1M758.0 1372.3V1344.3M760.0 1370.3V1345.9M762.0 1374.6V1347.9M764.0 1373.3V1355.3M766.0 1375.5V1351.9M766.0 1373.3V1352.9M768.0 1375.5V1353.3M770.0 1367.9V1344.7M772.0 1367.0V1353.3M774.0 1370.6V1350.8M776.0 1372.3V1358.9M778.0 1367.4V1360.8M780.0 1364.8V1361.0M782.0 1375.5V1360.4M784.0 1375.5V1357.7M784.0 1373.9V1359.6M786.0 1369.3V1358.8M788.0 1374.1V1350.5M790.0 1375.5V1359.2M792.0 1372.3V1354.1M794.0 1368.2V1352.7M796.0 1375.0V1349.3M798.0 1374.5V1349.0M800.0 1374.4V1353.7M802.0 1375.5V1363.5M804.0 1369.5V1357.2M804.0 1369.0V1359.8M806.0 1368.4V1359.4M808.0 1375.5V1361.1M810.0 1375.3V1361.7M812.0 1373.2V1363.1M814.0 1374.3V1363.1M816.0 1372.9V1361.8M818.0 1374.2V1360.5M820.0 1375.5V1354.3M822.0 1375.5V1361.0M824.0 1375.5V1363.6M826.0 1373.5V1364.0M828.0 1375.5V1354.1M830.0 1372.4V1359.0M832.0 1375.5V1356.3M834.0 1372.4V1360.1M836.0 1375.5V1360.3M838.0 1374.9V1364.7M840.0 1373.4V1355.7M842.0 1375.5V1363.7M844.0 1373.0V1360.3M846.0 1373.5V1360.7M848.0 1373.1V1364.4M850.0 1374.4V1364.1M852.0 1371.0V1358.4M854.0 1374.0V1357.2M856.0 1375.5V1364.3M858.0 1375.5V1361.6M860.0 1375.5V1361.5M862.0 1373.4V1367.5M864.0 1373.8V1363.8M866.0 1372.8V1363.7M868.0 1375.5V1366.5M870.0 1373.4V1361.6M870.0 1372.9V1362.6M872.0 1375.5V1362.9M874.0 1375.5V1364.3M876.0 1375.5V1367.1M878.0 1375.5V1365.3M880.0 1375.5V1366.6M882.0 1375.5V1365.8M884.0 1375.5V1367.4M886.0 1375.5V1365.3M888.0 1375.5V1365.3M888.0 1374.1V1367.8M890.0 1375.5V1365.3M892.0 1375.5V1365.8M892.0 1375.4V1369.0M894.0 1375.5V1366.5M896.0 1375.5V1367.2M898.0 1375.3V1367.3M900.0 1374.5V1366.3M902.0 1375.4V1366.6M904.0 1375.5V1368.3M906.0 1375.5V1368.1M908.0 1374.8V1367.8M910.0 1375.5V1367.4M912.0 1375.5V1370.6M914.0 1375.5V1365.3M916.0 1375.5V1368.3M918.0 1375.5V1359.4M920.0 1375.5V1365.6M922.0 1375.5V1365.8M924.0 1375.5V1368.9M926.0 1375.5V1364.8M928.0 1375.5V1359.0M930.0 1375.5V1361.9M932.0 1375.5V1364.1M934.0 1375.1V1365.3M936.0 1375.3V1366.3M938.0 1375.5V1366.3M940.0 1373.4V1359.0M942.0 1375.5V1359.0M944.0 1375.5V1359.0M946.0 1375.4V1359.0M948.0 1375.5V1359.8M950.0 1375.5V1366.3M952.0 1375.5V1359.0M954.0 1373.9V1363.4M956.0 1375.5V1362.3M958.0 1374.3V1367.2M960.0 1375.5V1360.1M962.0 1375.2V1359.4M964.0 1375.5V1362.5M966.0 1375.5V1366.9M968.0 1374.3V1365.4M970.0 1375.5V1367.8M972.0 1375.5V1369.4M974.0 1373.9V1368.0M976.0 1375.5V1365.5M978.0 1374.0V1366.3M980.0 1375.5V1368.9M982.0 1374.4V1365.2M984.0 1374.4V1364.8M984.0 1372.7V1368.1M986.0 1375.5V1369.5M988.0 1375.5V1369.6M990.0 1375.5V1370.2M992.0 1375.5V1368.4M994.0 1375.5V1369.4M996.0 1375.3V1368.8M998.0 1375.5V1367.7M1000.0 1375.5V1370.5M1002.0 1375.5V1368.6M1004.0 1375.5V1365.3M1006.0 1375.5V1368.9M1008.0 1375.5V1366.3M1008.0 1375.0V1367.6M1010.0 1375.5V1365.3M1012.0 1375.5V1369.8M1014.0 1374.7V1367.4M1016.0 1374.2V1365.7M1018.0 1375.5V1368.5M1020.0 1375.5V1368.8M1022.0 1375.5V1371.6M1024.0 1375.5V1368.1M1026.0 1375.5V1369.3M1028.0 1375.5V1366.0M1028.0 1373.4V1366.8M1030.0 1375.5V1368.5M1032.0 1375.5V1368.7M1032.0 1375.4V1369.7M1034.0 1375.5V1369.8M1036.0 1375.5V1369.7M1038.0 1375.5V1366.0M1038.0 1375.5V1368.8M1040.0 1375.5V1365.3M1042.0 1375.5V1365.4M1044.0 1375.5V1366.5M1046.0 1375.5V1365.3M1048.0 1375.5V1371.3M1050.0 1375.5V1368.8M1052.0 1375.5V1366.7M1052.0 1373.9V1370.1M1054.0 1375.5V1363.5M1056.0 1375.5V1362.1M1058.0 1375.5V1366.2M1060.0 1375.5V1367.1M1062.0 1375.5V1367.6M1062.0 1373.0V1371.0M1064.0 1375.5V1363.8M1066.0 1375.5V1361.6M1068.0 1375.5V1367.9M1070.0 1375.5V1369.9M1072.0 1375.5V1368.2M1074.0 1375.5V1365.3M1076.0 1374.9V1360.4M1078.0 1374.8V1368.9M1080.0 1375.5V1369.8M1082.0 1375.5V1368.4M1084.0 1375.5V1364.3M1084.0 1373.4V1366.2M1086.0 1375.5V1359.0M1088.0 1375.5V1366.5M1090.0 1375.5V1364.5M1092.0 1375.5V1365.8M1094.0 1375.5V1366.0M1096.0 1375.5V1364.2M1098.0 1375.0V1359.2M1100.0 1375.5V1361.7M1102.0 1375.3V1363.0M1104.0 1375.5V1362.5M1106.0 1375.2V1367.8M1108.0 1375.5V1366.1M1110.0 1374.1V1358.3M1112.0 1375.5V1365.5M1114.0 1375.5V1365.6M1116.0 1375.5V1364.6M1118.0 1375.5V1366.2M1118.0 1374.3V1367.9M1120.0 1375.5V1368.0M1122.0 1375.5V1367.1M1124.0 1375.5V1366.3M1126.0 1375.5V1365.7M1128.0 1374.5V1370.0M1130.0 1375.5V1367.2M1132.0 1375.5V1369.0M1134.0 1375.5V1368.2M1136.0 1375.5V1369.5M1138.0 1375.5V1370.8M1140.0 1375.5V1366.4M1142.0 1375.5V1369.1M1144.0 1375.5V1364.2M1146.0 1375.5V1366.0M1148.0 1375.5V1366.3M1150.0 1375.5V1364.2M1152.0 1375.5V1364.2M1154.0 1375.5V1367.9M1156.0 1375.5V1364.2M1158.0 1375.5V1366.8M1158.0 1375.0V1368.7M1160.0 1375.5V1365.8M1162.0 1375.5V1367.2M1164.0 1375.5V1368.5M1166.0 1375.5V1364.2M1168.0 1375.5V1364.7M1170.0 1375.5V1364.2M1172.0 1375.5V1368.7M1174.0 1375.5V1369.4M1176.0 1375.5V1366.7M1178.0 1375.5V1369.6M1180.0 1375.5V1370.9M1182.0 1375.5V1368.1M1184.0 1375.5V1369.2M1186.0 1375.5V1369.3M1188.0 1375.5V1370.4M1190.0 1375.4V1370.7M1192.0 1375.5V1370.8M1194.0 1375.5V1368.7M1196.0 1375.5V1368.5M1198.0 1375.5V1368.6M1200.0 1375.5V1371.1M1202.0 1375.5V1372.1M1204.0 1375.5V1369.7M1206.0 1375.5V1370.7M1208.0 1374.7V1369.2M1210.0 1375.5V1371.3M1212.0 1375.5V1370.9M1214.0 1375.5V1370.9M1216.0 1375.5V1373.8" fill="none" stroke="#9ccaec" stroke-width="2" shape-rendering="crispEdges"/>
<path d="M280.0 1365.0V1316.0M282.0 1343.6V1292.4M284.0 1331.0V1277.4M286.0 1366.7V1270.1M288.0 1361.1V1296.2M290.0 1359.5V1263.0M292.0 1362.4V1258.5M294.0 1340.1V1279.5M296.0 1358.7V1288.6M298.0 1354.8V1272.7M298.0 1354.8V1273.1M300.0 1355.5V1260.5M302.0 1349.9V1279.8M304.0 1368.4V1275.7M306.0 1374.7V1326.6M306.0 1372.7V1327.5M308.0 1352.7V1331.4M310.0 1342.1V1292.6M312.0 1371.1V1290.2M314.0 1347.3V1309.0M314.0 1345.4V1309.0M316.0 1359.3V1294.2M318.0 1361.6V1299.9M320.0 1359.9V1286.1M322.0 1354.7V1328.2M324.0 1362.2V1328.1M326.0 1342.8V1278.9M328.0 1373.3V1304.5M330.0 1368.9V1318.0M332.0 1353.6V1308.9M334.0 1369.2V1326.1M334.0 1369.1V1327.2M336.0 1353.1V1331.5M338.0 1359.8V1298.8M340.0 1372.2V1333.2M342.0 1368.5V1330.3M342.0 1367.7V1331.5M344.0 1360.4V1315.0M344.0 1358.5V1315.2M346.0 1368.7V1324.6M348.0 1372.6V1325.6M350.0 1369.4V1311.2M352.0 1352.6V1325.2M354.0 1351.5V1327.3M354.0 1350.7V1327.6M356.0 1367.8V1323.6M358.0 1364.7V1341.7M360.0 1368.2V1344.1M362.0 1370.8V1331.1M364.0 1357.7V1307.4M366.0 1353.5V1321.8M366.0 1353.2V1321.9M368.0 1351.6V1326.4M370.0 1350.5V1305.0M372.0 1352.3V1311.7M374.0 1353.9V1323.6M376.0 1357.4V1334.1M378.0 1373.5V1324.6M380.0 1372.7V1337.4M382.0 1373.9V1336.9M384.0 1369.4V1313.7M384.0 1368.3V1314.4M386.0 1368.1V1326.2M386.0 1367.4V1327.1M388.0 1360.7V1329.3M390.0 1360.2V1343.9M390.0 1359.3V1345.1M392.0 1369.0V1334.5M394.0 1372.4V1332.6M396.0 1362.5V1333.1M398.0 1370.3V1332.7M400.0 1361.2V1346.3M402.0 1372.6V1345.4M404.0 1368.5V1317.8M406.0 1357.5V1320.9M408.0 1363.8V1336.5M410.0 1356.5V1339.7M412.0 1355.7V1332.4M414.0 1371.7V1339.2M414.0 1370.2V1340.6M416.0 1370.3V1347.3M416.0 1369.4V1348.3M418.0 1373.9V1330.9M418.0 1372.0V1332.0M420.0 1359.8V1345.9M422.0 1364.8V1350.5M424.0 1373.6V1338.2M424.0 1373.2V1339.4M426.0 1357.4V1326.8M428.0 1369.2V1306.9M428.0 1369.2V1307.5M430.0 1370.4V1323.1M430.0 1368.9V1324.3M432.0 1355.5V1330.8M434.0 1371.1V1326.8M434.0 1370.0V1326.9M436.0 1372.3V1307.6M438.0 1367.2V1332.9M440.0 1374.6V1304.2M442.0 1354.0V1340.9M444.0 1361.3V1308.6M446.0 1368.3V1305.9M448.0 1360.4V1319.3M450.0 1372.3V1313.2M452.0 1346.2V1318.7M454.0 1348.5V1322.9M456.0 1348.8V1317.5M458.0 1347.9V1330.4M458.0 1346.4V1331.7M460.0 1345.6V1319.5M462.0 1364.3V1304.7M464.0 1370.5V1311.6M466.0 1362.9V1313.9M468.0 1364.9V1325.7M470.0 1347.0V1331.0M472.0 1367.2V1321.9M472.0 1366.6V1321.9M474.0 1359.8V1329.7M476.0 1371.2V1338.8M478.0 1353.2V1323.7M480.0 1358.7V1312.3M482.0 1362.6V1319.6M484.0 1361.8V1315.2M486.0 1366.3V1341.2M488.0 1361.7V1346.7M488.0 1361.6V1346.7M490.0 1369.2V1325.2M490.0 1368.0V1325.6M492.0 1365.4V1332.7M494.0 1362.2V1335.5M496.0 1357.0V1330.4M498.0 1370.3V1341.1M500.0 1371.2V1348.4M500.0 1369.9V1349.6M502.0 1370.9V1347.3M504.0 1370.3V1341.2M506.0 1361.0V1332.2M506.0 1360.6V1332.5M508.0 1358.7V1325.1M508.0 1356.7V1325.6M510.0 1357.1V1332.3M512.0 1367.6V1340.5M514.0 1368.8V1339.5M516.0 1365.3V1344.5M516.0 1363.9V1345.5M518.0 1363.2V1339.9M518.0 1362.9V1341.2M520.0 1363.8V1338.0M522.0 1365.2V1348.3M524.0 1365.6V1345.3M524.0 1364.6V1346.3M526.0 1366.1V1344.0M528.0 1375.2V1337.5M528.0 1373.5V1337.6M530.0 1367.7V1345.4M530.0 1366.6V1346.0M532.0 1372.8V1335.3M534.0 1371.8V1339.3M536.0 1362.9V1346.0M538.0 1367.2V1337.3M538.0 1365.9V1338.7M540.0 1372.8V1350.5M540.0 1372.8V1350.7M542.0 1373.0V1355.2M544.0 1361.5V1344.9M546.0 1375.5V1357.9M548.0 1375.5V1358.6M550.0 1364.7V1347.5M552.0 1374.8V1353.6M554.0 1374.8V1358.3M554.0 1374.2V1358.9M556.0 1371.3V1345.7M556.0 1370.5V1347.2M558.0 1371.0V1344.3M560.0 1366.3V1359.8M562.0 1374.8V1342.9M564.0 1369.4V1355.6M564.0 1368.1V1356.5M566.0 1374.5V1333.9M568.0 1374.3V1356.3M570.0 1374.5V1359.5M572.0 1373.7V1359.7M572.0 1372.0V1360.3M574.0 1373.9V1351.8M576.0 1368.7V1339.0M578.0 1371.8V1337.2M578.0 1370.4V1338.4M580.0 1373.0V1350.3M582.0 1365.4V1343.8M582.0 1365.0V1344.1M584.0 1366.9V1344.7M586.0 1374.1V1349.0M588.0 1374.1V1355.6M588.0 1374.1V1356.3M590.0 1368.8V1357.7M592.0 1373.0V1360.9M594.0 1370.9V1347.3M594.0 1369.3V1348.1M596.0 1371.7V1360.5M598.0 1370.1V1360.4M600.0 1375.2V1358.7M602.0 1368.5V1360.3M604.0 1369.8V1360.7M606.0 1372.4V1360.3M608.0 1368.8V1362.3M610.0 1370.0V1356.8M612.0 1375.3V1357.0M612.0 1373.9V1358.2M614.0 1375.3V1358.6M616.0 1375.2V1356.7M618.0 1371.9V1360.1M620.0 1372.7V1349.9M620.0 1371.2V1350.6M622.0 1369.1V1352.5M624.0 1367.9V1360.4M626.0 1366.1V1359.5M628.0 1375.5V1354.0M630.0 1370.7V1346.0M632.0 1373.5V1355.0M634.0 1371.8V1357.0M636.0 1371.4V1354.0M636.0 1370.7V1354.1M638.0 1371.3V1352.0M640.0 1367.7V1358.6M642.0 1375.5V1355.7M644.0 1373.2V1349.7M646.0 1370.7V1358.3M648.0 1372.5V1354.7M648.0 1370.7V1356.0M650.0 1371.3V1352.7M650.0 1369.6V1352.8M652.0 1370.0V1346.3M654.0 1375.5V1362.2M656.0 1370.3V1347.8M658.0 1367.2V1350.7M660.0 1374.7V1346.0M662.0 1372.1V1359.1M664.0 1374.1V1351.6M664.0 1372.9V1351.8M666.0 1375.5V1357.7M668.0 1370.4V1352.7M670.0 1373.8V1338.0M670.0 1373.5V1338.7M672.0 1374.0V1341.9M674.0 1374.7V1357.8M676.0 1375.2V1352.3M676.0 1373.5V1353.8M678.0 1364.4V1353.9M680.0 1366.8V1343.7M682.0 1375.5V1345.5M684.0 1365.0V1342.3M686.0 1368.3V1354.2M688.0 1367.8V1357.5M690.0 1367.7V1355.8M692.0 1368.8V1355.2M694.0 1375.5V1356.1M696.0 1371.5V1354.0M698.0 1366.1V1352.4M700.0 1368.8V1353.7M702.0 1372.6V1354.6M704.0 1364.5V1347.2M704.0 1364.4V1348.3M706.0 1372.6V1338.3M708.0 1369.6V1355.4M710.0 1368.6V1355.4M712.0 1364.9V1356.5M714.0 1369.1V1347.8M714.0 1369.1V1348.8M716.0 1370.7V1347.7M718.0 1370.4V1352.4M720.0 1371.9V1358.2M720.0 1370.8V1359.5M722.0 1375.2V1359.8M722.0 1374.8V1360.7M724.0 1372.6V1352.4M726.0 1368.4V1353.4M728.0 1367.9V1356.4M730.0 1373.2V1362.5M732.0 1373.7V1348.7M734.0 1375.5V1361.9M736.0 1375.5V1362.5M738.0 1367.0V1357.7M738.0 1366.4V1358.4M740.0 1372.5V1357.3M742.0 1367.4V1355.6M744.0 1370.8V1355.0M744.0 1369.0V1355.9M746.0 1371.0V1362.9M748.0 1375.5V1350.4M748.0 1374.4V1351.2M750.0 1367.2V1349.6M752.0 1370.5V1355.1M752.0 1369.3V1355.8M754.0 1370.8V1353.4M756.0 1369.2V1346.5M758.0 1369.8V1344.3M760.0 1368.9V1346.0M762.0 1373.6V1349.6M764.0 1372.6V1356.1M766.0 1374.8V1352.6M768.0 1372.9V1355.2M770.0 1366.5V1345.6M772.0 1365.6V1355.1M772.0 1365.5V1355.8M774.0 1370.3V1352.0M776.0 1370.2V1360.2M778.0 1365.5V1361.4M778.0 1365.0V1362.2M780.0 1364.8V1361.9M780.0 1364.4V1362.4M782.0 1375.5V1362.3M784.0 1375.5V1359.4M786.0 1368.1V1361.3M788.0 1372.3V1352.0M790.0 1374.1V1360.5M792.0 1370.4V1355.3M794.0 1368.1V1354.5M796.0 1372.3V1351.6M798.0 1372.6V1351.4M800.0 1373.3V1354.3M800.0 1372.0V1354.3M802.0 1374.0V1363.9M804.0 1369.5V1358.4M806.0 1368.0V1360.6M806.0 1366.8V1361.0M808.0 1374.6V1363.1M810.0 1373.2V1363.5M812.0 1369.5V1363.9M814.0 1370.9V1364.5M816.0 1372.6V1363.3M818.0 1371.8V1363.6M820.0 1374.0V1363.0M820.0 1372.4V1364.0M822.0 1372.1V1363.4M822.0 1371.6V1363.5M824.0 1375.5V1364.5M826.0 1370.2V1366.4M828.0 1375.5V1355.0M830.0 1370.0V1361.2M832.0 1375.5V1358.6M834.0 1370.5V1360.2M836.0 1372.5V1361.1M838.0 1374.0V1366.4M840.0 1370.3V1356.8M842.0 1372.4V1363.7M844.0 1369.9V1362.7M846.0 1370.0V1360.8M846.0 1369.3V1362.1M848.0 1369.8V1364.7M848.0 1369.5V1366.2M850.0 1373.0V1364.6M850.0 1372.0V1366.0M852.0 1370.1V1360.1M854.0 1373.8V1357.7M854.0 1372.8V1358.9M856.0 1374.0V1366.6M858.0 1375.5V1363.4M858.0 1374.5V1364.5M860.0 1375.5V1363.5M862.0 1372.4V1368.7M862.0 1371.2V1368.9M864.0 1373.1V1364.3M866.0 1372.4V1365.8M866.0 1370.6V1366.0M868.0 1374.2V1367.1M868.0 1372.8V1367.9M870.0 1373.0V1362.1M872.0 1375.0V1363.1M874.0 1375.5V1365.3M876.0 1375.3V1369.5M878.0 1375.3V1366.1M880.0 1372.7V1368.2M882.0 1375.5V1365.9M884.0 1374.0V1369.2M886.0 1375.5V1365.3M888.0 1375.1V1366.4M890.0 1374.3V1365.3M892.0 1375.5V1368.1M894.0 1375.5V1367.4M894.0 1375.4V1368.5M896.0 1375.5V1369.1M898.0 1374.6V1368.6M900.0 1373.0V1368.7M900.0 1372.6V1369.8M902.0 1374.9V1367.7M902.0 1374.3V1368.5M904.0 1374.8V1369.6M906.0 1374.3V1369.9M906.0 1373.6V1371.2M908.0 1372.9V1368.7M910.0 1373.8V1369.1M912.0 1375.5V1370.9M912.0 1374.4V1371.1M914.0 1374.9V1365.7M916.0 1374.2V1370.0M916.0 1372.5V1370.4M918.0 1375.5V1361.6M918.0 1375.1V1361.8M920.0 1374.5V1367.9M922.0 1374.8V1369.5M924.0 1374.0V1370.0M926.0 1375.5V1365.1M928.0 1375.5V1360.2M930.0 1373.9V1363.2M932.0 1374.3V1365.3M934.0 1374.4V1366.6M936.0 1373.1V1367.7M938.0 1375.1V1368.7M940.0 1372.9V1359.0M942.0 1373.8V1359.4M944.0 1375.4V1359.0M946.0 1374.7V1359.0M948.0 1373.8V1360.4M950.0 1375.4V1368.8M952.0 1374.7V1359.6M954.0 1373.0V1364.7M956.0 1375.0V1363.7M958.0 1372.0V1369.1M960.0 1375.5V1360.8M962.0 1374.3V1360.1M962.0 1372.4V1361.3M964.0 1375.1V1364.3M966.0 1375.4V1367.5M966.0 1374.0V1367.5M968.0 1373.7V1366.2M968.0 1373.6V1367.6M970.0 1375.4V1368.5M970.0 1374.2V1369.8M972.0 1375.5V1369.8M972.0 1374.3V1369.9M974.0 1373.0V1368.4M976.0 1374.3V1367.4M978.0 1372.9V1367.8M980.0 1374.1V1369.6M980.0 1373.9V1369.7M982.0 1373.5V1365.6M984.0 1373.1V1367.1M986.0 1375.4V1371.6M986.0 1374.6V1372.5M988.0 1374.8V1370.3M990.0 1374.7V1370.2M990.0 1374.1V1371.6M992.0 1374.5V1370.8M994.0 1374.7V1370.0M996.0 1375.0V1369.6M998.0 1374.8V1369.1M1000.0 1375.5V1370.6M1002.0 1374.1V1369.2M1004.0 1375.5V1365.3M1006.0 1375.5V1371.2M1008.0 1375.5V1367.5M1010.0 1375.5V1365.4M1012.0 1374.2V1370.3M1012.0 1373.7V1370.6M1014.0 1373.8V1369.6M1016.0 1373.3V1366.1M1018.0 1375.1V1370.7M1020.0 1374.9V1370.1M1020.0 1374.1V1371.5M1022.0 1375.5V1372.3M1024.0 1374.6V1369.9M1026.0 1375.3V1371.0M1026.0 1374.1V1371.6M1028.0 1375.1V1366.4M1030.0 1375.5V1369.1M1032.0 1375.5V1369.6M1034.0 1375.5V1371.7M1036.0 1375.5V1372.1M1036.0 1375.4V1372.1M1038.0 1375.5V1367.9M1040.0 1375.5V1365.4M1040.0 1374.6V1366.8M1042.0 1375.5V1365.6M1044.0 1375.5V1367.4M1046.0 1375.5V1367.2M1048.0 1375.5V1371.5M1050.0 1375.1V1369.2M1052.0 1375.0V1368.6M1054.0 1374.2V1363.5M1056.0 1375.5V1368.6M1056.0 1375.2V1369.1M1058.0 1374.2V1367.2M1060.0 1374.6V1368.2M1062.0 1373.5V1369.8M1064.0 1375.3V1366.1M1066.0 1374.6V1362.0M1066.0 1374.2V1362.5M1068.0 1375.5V1370.0M1068.0 1375.2V1370.6M1070.0 1375.5V1370.5M1072.0 1374.9V1370.6M1074.0 1374.6V1366.6M1076.0 1374.7V1369.5M1078.0 1373.6V1369.4M1078.0 1373.1V1370.6M1080.0 1373.9V1370.5M1082.0 1374.1V1369.9M1084.0 1374.9V1365.0M1086.0 1375.4V1359.0M1088.0 1374.2V1367.5M1090.0 1375.4V1364.6M1092.0 1375.5V1366.7M1094.0 1374.4V1367.1M1096.0 1374.2V1366.1M1098.0 1374.8V1361.3M1100.0 1374.9V1361.9M1100.0 1373.3V1362.9M1102.0 1374.5V1363.1M1104.0 1373.9V1364.8M1106.0 1371.8V1368.5M1106.0 1371.0V1369.4M1108.0 1375.5V1366.4M1110.0 1372.1V1358.7M1112.0 1375.5V1365.9M1114.0 1375.5V1368.0M1116.0 1374.1V1364.7M1118.0 1374.4V1366.6M1120.0 1375.5V1368.5M1120.0 1374.5V1369.1M1122.0 1375.5V1369.3M1124.0 1375.5V1368.4M1124.0 1374.6V1369.2M1126.0 1373.0V1366.5M1128.0 1373.9V1370.2M1130.0 1375.5V1369.3M1132.0 1375.5V1370.2M1134.0 1375.2V1368.2M1136.0 1375.5V1370.3M1138.0 1375.5V1370.9M1140.0 1373.4V1368.7M1140.0 1373.0V1370.1M1142.0 1375.2V1369.1M1144.0 1375.5V1364.2M1146.0 1375.4V1367.9M1148.0 1374.9V1367.1M1150.0 1373.2V1365.6M1152.0 1375.2V1364.2M1154.0 1375.5V1367.9M1154.0 1375.4V1368.8M1156.0 1375.2V1365.5M1158.0 1375.5V1367.4M1160.0 1375.3V1367.5M1162.0 1375.4V1367.8M1164.0 1373.9V1368.8M1166.0 1375.5V1364.6M1168.0 1375.5V1366.8M1170.0 1375.2V1365.7M1172.0 1375.5V1369.8M1174.0 1375.5V1369.6M1176.0 1375.3V1367.9M1178.0 1375.5V1371.2M1180.0 1375.5V1371.5M1182.0 1375.5V1368.8M1184.0 1375.5V1370.2M1186.0 1375.5V1371.6M1188.0 1375.5V1370.5M1188.0 1375.0V1371.1M1190.0 1375.3V1371.6M1192.0 1375.5V1373.2M1194.0 1375.5V1371.1M1196.0 1375.5V1368.5M1198.0 1375.5V1368.6M1200.0 1375.5V1371.6M1202.0 1375.3V1372.7M1202.0 1375.2V1372.9M1204.0 1375.5V1370.1M1206.0 1375.5V1371.8M1206.0 1375.5V1372.4M1208.0 1374.6V1369.2M1210.0 1375.3V1372.6M1210.0 1375.0V1372.9M1212.0 1375.5V1372.0M1212.0 1375.0V1372.2M1214.0 1375.5V1371.7M1216.0 1375.5V1373.8" fill="none" stroke="#5b96cf" stroke-width="2" shape-rendering="crispEdges"/>
<path d="M280.0 1363.7V1316.2M282.0 1342.2V1293.8M284.0 1329.6V1278.3M286.0 1365.4V1271.4M288.0 1359.9V1296.8M290.0 1358.7V1263.6M292.0 1361.7V1258.5M294.0 1339.2V1280.9M296.0 1357.1V1289.8M300.0 1355.1V1260.5M302.0 1349.5V1279.9M308.0 1351.1V1331.6M310.0 1340.7V1293.4M312.0 1370.6V1290.8M316.0 1357.8V1295.1M320.0 1358.3V1286.6M324.0 1362.1V1328.8M326.0 1342.1V1279.9M328.0 1372.2V1305.8M330.0 1367.1V1318.6M332.0 1352.5V1309.3M336.0 1353.0V1331.9M338.0 1359.6V1299.1M340.0 1372.0V1333.4M348.0 1371.1V1326.0M350.0 1368.7V1311.4M352.0 1352.6V1325.9M356.0 1367.2V1323.8M358.0 1364.3V1343.0M360.0 1367.3V1344.2M362.0 1370.3V1331.9M364.0 1356.7V1308.5M368.0 1351.1V1326.9M370.0 1349.6V1306.2M372.0 1351.2V1312.4M374.0 1352.6V1324.4M376.0 1356.0V1335.6M378.0 1372.9V1325.6M380.0 1372.6V1337.5M382.0 1372.9V1337.0M388.0 1359.3V1330.6M392.0 1368.2V1335.8M394.0 1371.1V1333.9M396.0 1361.0V1334.6M398.0 1370.2V1333.4M400.0 1360.3V1346.7M404.0 1367.7V1318.5M406.0 1356.6V1322.2M408.0 1363.3V1336.6M410.0 1356.2V1340.9M412.0 1354.3V1332.6M420.0 1358.1V1346.1M426.0 1355.4V1327.2M432.0 1354.0V1332.2M436.0 1370.9V1308.4M438.0 1366.7V1333.6M440.0 1373.5V1305.2M442.0 1352.7V1340.9M444.0 1361.3V1309.9M446.0 1367.1V1306.6M450.0 1371.0V1314.2M452.0 1346.1V1319.8M454.0 1348.0V1323.6M456.0 1348.6V1318.1M460.0 1344.4V1319.5M462.0 1362.5V1305.9M466.0 1362.4V1314.5M468.0 1363.7V1327.1M470.0 1345.3V1332.1M474.0 1358.9V1331.0M476.0 1370.5V1338.8M478.0 1352.9V1324.4M480.0 1357.2V1312.9M482.0 1360.9V1321.0M484.0 1360.4V1315.8M486.0 1364.7V1342.3M492.0 1363.5V1333.4M494.0 1360.6V1336.3M496.0 1356.3V1331.7M498.0 1369.0V1341.8M502.0 1369.5V1347.5M510.0 1356.7V1332.6M512.0 1367.6V1341.6M514.0 1367.7V1339.9M520.0 1363.3V1338.2M522.0 1363.4V1348.9M526.0 1364.4V1344.9M532.0 1371.9V1336.4M534.0 1371.3V1340.2M536.0 1362.8V1347.3M542.0 1372.9V1355.9M544.0 1361.2V1346.3M546.0 1374.7V1358.1M548.0 1375.2V1359.7M550.0 1363.1V1348.6M552.0 1374.4V1355.0M558.0 1370.3V1345.4M562.0 1374.7V1343.7M566.0 1373.4V1335.1M568.0 1373.4V1356.9M570.0 1373.2V1360.7M574.0 1373.6V1351.9M576.0 1367.4V1340.3M580.0 1371.2V1351.4M584.0 1366.4V1346.1M586.0 1372.5V1349.5M590.0 1368.6V1358.9M592.0 1372.9V1361.5M596.0 1370.1V1361.8M598.0 1369.6V1360.6M600.0 1373.5V1358.7M602.0 1366.9V1360.6M604.0 1368.3V1361.9M606.0 1371.0V1360.7M610.0 1369.4V1357.4M614.0 1373.9V1358.8M616.0 1374.1V1358.2M618.0 1371.1V1361.2M622.0 1368.8V1353.0M624.0 1367.1V1361.0M626.0 1365.2V1359.9M628.0 1374.2V1355.0M630.0 1370.2V1347.2M632.0 1371.6V1355.2M634.0 1371.2V1358.4M638.0 1371.2V1353.3M642.0 1374.3V1356.2M644.0 1372.3V1350.0M646.0 1368.9V1359.0M652.0 1369.7V1347.7M654.0 1374.2V1362.8M656.0 1369.1V1348.0M658.0 1366.7V1351.6M660.0 1374.5V1346.9M662.0 1371.5V1359.7M666.0 1374.2V1358.6M668.0 1368.9V1353.9M672.0 1373.2V1343.3M674.0 1373.7V1358.8M678.0 1363.5V1355.2M680.0 1365.0V1344.3M682.0 1373.8V1345.6M684.0 1364.3V1343.1M686.0 1368.2V1355.2M688.0 1367.6V1358.3M690.0 1366.9V1356.6M692.0 1367.7V1356.7M694.0 1373.9V1357.2M696.0 1371.3V1354.7M698.0 1365.8V1352.6M700.0 1368.4V1354.8M702.0 1370.8V1354.8M706.0 1371.7V1338.6M708.0 1367.8V1356.4M710.0 1368.3V1356.8M712.0 1364.3V1356.6M716.0 1370.3V1349.2M718.0 1369.0V1352.9M724.0 1370.9V1353.5M726.0 1368.1V1354.4M728.0 1367.4V1357.6M732.0 1372.7V1349.3M734.0 1375.0V1362.8M736.0 1375.0V1362.8M740.0 1371.5V1358.3M742.0 1365.8V1355.9M746.0 1370.9V1363.7M750.0 1366.2V1350.3M756.0 1368.0V1347.0M758.0 1367.8V1344.3M760.0 1367.9V1346.1M762.0 1371.8V1350.1M764.0 1370.9V1356.9M768.0 1372.0V1355.8M770.0 1365.8V1346.7M774.0 1368.6V1352.7M776.0 1369.0V1360.4M782.0 1373.9V1362.8M786.0 1366.8V1362.7M788.0 1371.7V1353.3M790.0 1373.6V1361.8M792.0 1368.8V1356.6M794.0 1367.3V1355.7M796.0 1371.0V1352.1M798.0 1372.6V1352.6M802.0 1373.7V1364.7M808.0 1374.2V1363.2M810.0 1371.6V1364.7M812.0 1368.3V1364.1M814.0 1370.0V1364.5M816.0 1370.7V1364.5M818.0 1371.0V1364.4M824.0 1374.3V1366.0M826.0 1368.4V1366.6M828.0 1375.2V1355.8M830.0 1369.1V1361.4M832.0 1374.8V1359.5M834.0 1369.3V1360.6M836.0 1371.1V1361.2M838.0 1373.8V1367.3M840.0 1369.8V1357.1M842.0 1372.1V1365.1M844.0 1369.8V1363.0M852.0 1369.9V1360.2M856.0 1372.8V1367.0M860.0 1375.2V1364.6M864.0 1371.8V1365.2M872.0 1375.0V1364.5M874.0 1375.2V1366.5M876.0 1373.7V1369.7M878.0 1374.6V1366.7M880.0 1372.5V1369.6M882.0 1374.2V1367.0M884.0 1372.0V1370.4M886.0 1374.9V1366.4M890.0 1372.6V1366.1M896.0 1375.3V1370.4M898.0 1374.4V1368.6M904.0 1373.6V1369.8M908.0 1372.5V1369.8M910.0 1372.6V1370.3M914.0 1374.8V1367.1M920.0 1374.1V1369.2M922.0 1373.6V1369.8M924.0 1373.7V1370.1M926.0 1375.3V1365.6M928.0 1375.3V1361.5M930.0 1372.2V1364.4M932.0 1372.8V1366.2M934.0 1373.0V1367.4M936.0 1372.7V1367.8M938.0 1374.6V1369.0M940.0 1371.5V1360.1M942.0 1373.0V1359.6M944.0 1373.9V1359.0M946.0 1374.3V1359.5M948.0 1373.0V1361.5M950.0 1375.2V1368.9M952.0 1374.6V1360.0M954.0 1371.6V1364.8M956.0 1373.2V1365.1M958.0 1371.9V1370.4M960.0 1375.1V1361.9M964.0 1373.1V1365.8M974.0 1371.6V1368.5M976.0 1372.6V1367.7M978.0 1372.0V1367.9M982.0 1372.8V1365.9M988.0 1374.1V1371.2M992.0 1374.3V1371.9M994.0 1374.1V1371.3M996.0 1374.0V1370.8M998.0 1373.6V1370.6M1000.0 1375.5V1372.1M1002.0 1373.2V1370.1M1004.0 1374.3V1366.2M1006.0 1375.5V1372.3M1010.0 1375.0V1365.4M1014.0 1373.4V1370.7M1016.0 1373.1V1366.5M1018.0 1373.5V1371.9M1022.0 1374.3V1372.4M1024.0 1374.0V1370.4M1030.0 1375.3V1370.0M1034.0 1375.3V1372.3M1042.0 1374.2V1365.7M1044.0 1373.8V1368.9M1046.0 1373.8V1368.4M1048.0 1374.8V1372.0M1050.0 1374.0V1370.6M1054.0 1374.0V1363.9M1058.0 1372.5V1368.6M1060.0 1373.2V1369.3M1064.0 1375.2V1367.4M1070.0 1375.2V1371.3M1072.0 1373.2V1370.8M1074.0 1373.2V1367.5M1076.0 1373.1V1369.7M1080.0 1372.9V1371.3M1082.0 1373.0V1371.2M1086.0 1375.0V1360.3M1088.0 1374.0V1368.4M1090.0 1374.1V1366.1M1092.0 1373.7V1367.7M1094.0 1373.9V1367.3M1096.0 1373.9V1366.6M1098.0 1373.3V1361.9M1102.0 1373.3V1364.6M1104.0 1373.1V1366.0M1108.0 1374.0V1367.3M1110.0 1371.1V1359.6M1112.0 1374.3V1366.2M1114.0 1375.4V1368.1M1116.0 1374.0V1365.8M1122.0 1374.7V1369.4M1126.0 1372.4V1366.7M1128.0 1372.7V1370.8M1130.0 1375.0V1369.6M1132.0 1375.5V1371.0M1134.0 1374.6V1368.3M1136.0 1374.9V1371.3M1138.0 1374.8V1371.2M1142.0 1374.9V1370.5M1144.0 1374.6V1365.3M1146.0 1373.8V1368.3M1148.0 1373.7V1368.0M1150.0 1372.4V1365.6M1152.0 1374.7V1365.1M1156.0 1374.6V1365.8M1160.0 1373.9V1368.2M1162.0 1374.1V1368.4M1164.0 1372.9V1370.3M1166.0 1375.4V1365.6M1168.0 1375.2V1368.0M1170.0 1373.9V1366.1M1172.0 1374.8V1370.0M1174.0 1374.7V1369.9M1176.0 1375.1V1369.2M1178.0 1374.1V1371.8M1180.0 1374.3V1372.1M1182.0 1374.5V1369.3M1184.0 1374.5V1370.3M1186.0 1375.3V1372.6M1190.0 1374.7V1372.0M1192.0 1375.5V1373.5M1194.0 1375.3V1372.4M1196.0 1374.1V1369.2M1198.0 1374.0V1369.3M1200.0 1374.7V1372.6M1204.0 1374.8V1370.8M1208.0 1374.4V1369.5M1214.0 1375.1V1372.2M1216.0 1375.5V1373.8" fill="none" stroke="#3670bb" stroke-width="2" shape-rendering="crispEdges"/>
<path d="M390.5 1375.3V892.3 M522.2 1375.3V1048.0 M652.3 1375.3V1170.2 M784.2 1375.3V1235.6 M914.6 1375.3V1306.6 M1045.5 1375.3V1340.5 M1176.6 1375.3V1343.7" fill="none" stroke="#5288c0" stroke-width="2.6"/>
<path d="M511.0 1375.3V1314.8 M568.0 1375.3V1322.3 M813.3 1375.3V1344.8 M1240.0 1375.3V1373.8 M1262.0 1375.3V1374.3 M1300.0 1375.3V1373.8 M1330.0 1375.3V1374.3" fill="none" stroke="#3a73bd" stroke-width="1.8"/>
<rect x="276.5" y="843.4" width="1082.0" height="533.9" fill="none" stroke="#030303" stroke-width="3"/>
<line x1="396.6" y1="1375.8" x2="396.6" y2="1364.3" stroke="#111111" stroke-width="3"/>
<line x1="534.4" y1="1375.8" x2="534.4" y2="1364.3" stroke="#111111" stroke-width="3"/>
<line x1="672.2" y1="1375.8" x2="672.2" y2="1364.3" stroke="#111111" stroke-width="3"/>
<line x1="810.0" y1="1375.8" x2="810.0" y2="1364.3" stroke="#111111" stroke-width="3"/>
<line x1="947.8" y1="1375.8" x2="947.8" y2="1364.3" stroke="#111111" stroke-width="3"/>
<line x1="1085.6" y1="1375.8" x2="1085.6" y2="1364.3" stroke="#111111" stroke-width="3"/>
<line x1="1223.4" y1="1375.8" x2="1223.4" y2="1364.3" stroke="#111111" stroke-width="3"/>
<text x="396.6" y="1434.3" text-anchor="middle" font-size="54">100</text>
<text x="534.4" y="1434.3" text-anchor="middle" font-size="54">200</text>
<text x="672.2" y="1434.3" text-anchor="middle" font-size="54">300</text>
<text x="810.0" y="1434.3" text-anchor="middle" font-size="54">400</text>
<text x="947.8" y="1434.3" text-anchor="middle" font-size="54">500</text>
<text x="1085.6" y="1434.3" text-anchor="middle" font-size="54">600</text>
<text x="1223.4" y="1434.3" text-anchor="middle" font-size="54">700</text>
<text x="1359.5" y="1434.3" text-anchor="middle" font-size="54">800</text>
<text x="257.5" y="1394.3" text-anchor="end" font-size="54">0</text>
<line x1="278.0" y1="1310.6" x2="290.5" y2="1310.6" stroke="#111111" stroke-width="3"/>
<text x="257.5" y="1327.6" text-anchor="end" font-size="54">0.5</text>
<line x1="278.0" y1="1243.8" x2="290.5" y2="1243.8" stroke="#111111" stroke-width="3"/>
<text x="257.5" y="1260.8" text-anchor="end" font-size="54">1.0</text>
<line x1="278.0" y1="1177.1" x2="290.5" y2="1177.1" stroke="#111111" stroke-width="3"/>
<text x="257.5" y="1194.1" text-anchor="end" font-size="54">1.5</text>
<line x1="278.0" y1="1110.3" x2="290.5" y2="1110.3" stroke="#111111" stroke-width="3"/>
<text x="257.5" y="1127.3" text-anchor="end" font-size="54">2.0</text>
<line x1="278.0" y1="1043.6" x2="290.5" y2="1043.6" stroke="#111111" stroke-width="3"/>
<text x="257.5" y="1060.6" text-anchor="end" font-size="54">2.5</text>
<line x1="278.0" y1="976.9" x2="290.5" y2="976.9" stroke="#111111" stroke-width="3"/>
<text x="257.5" y="993.9" text-anchor="end" font-size="54">3.0</text>
<line x1="278.0" y1="910.1" x2="290.5" y2="910.1" stroke="#111111" stroke-width="3"/>
<text x="257.5" y="927.1" text-anchor="end" font-size="54">3.5</text>
<text x="257.5" y="860.4" text-anchor="end" font-size="54">4.0</text>
<text transform="translate(143 1086.6) rotate(-90)" text-anchor="middle" font-size="52">幅值/10<tspan dy="-17" font-size="31">−10</tspan><tspan dy="17"> (m·s</tspan><tspan dy="-17" font-size="31">−2</tspan><tspan dy="17">)</tspan></text>
<text x="817.0" y="1518.3" text-anchor="middle" font-size="52">频率/Hz</text>
<text x="629.5" y="1587.8" font-size="52.4">(b) <tspan font-style="italic">n</tspan>=1 200 r/min</text>
<text x="406.5" y="936.4" font-size="52">(95.21, 3.664×10<tspan dy="-17" font-size="30">−10</tspan><tspan dy="17">)</tspan></text>
<text x="526.5" y="1024.0" font-size="52">(190.4, 2.491×10<tspan dy="-17" font-size="30">−10</tspan><tspan dy="17">)</tspan></text>
<text x="647.1" y="1147.4" font-size="52">(285.3, 1.583×10<tspan dy="-17" font-size="30">−10</tspan><tspan dy="17">)</tspan></text>
<path d="M280.0 2175.3V2108.9M282.0 2183.1V2131.8M284.0 2169.5V2137.1M286.0 2191.1V2098.9M288.0 2190.2V2114.3M290.0 2188.3V2149.5M292.0 2178.7V2152.5M294.0 2192.7V2140.9M296.0 2179.2V2110.6M298.0 2173.9V2144.6M300.0 2173.8V2145.1M300.0 2169.5V2147.9M302.0 2177.3V2153.8M304.0 2173.3V2107.8M306.0 2166.5V2145.6M308.0 2164.9V2142.2M310.0 2196.3V2156.1M310.0 2194.6V2157.5M312.0 2181.1V2154.3M314.0 2194.2V2145.7M316.0 2172.2V2111.3M318.0 2182.0V2120.3M320.0 2168.2V2152.6M322.0 2182.2V2116.8M324.0 2176.6V2136.3M326.0 2190.0V2142.5M328.0 2176.4V2112.1M330.0 2191.3V2131.3M332.0 2178.1V2104.0M334.0 2196.5V2118.1M336.0 2192.4V2122.0M338.0 2189.1V2111.2M340.0 2181.7V2150.5M342.0 2190.6V2153.7M344.0 2177.3V2114.3M346.0 2179.1V2120.1M346.0 2175.6V2121.8M348.0 2182.3V2104.1M350.0 2178.1V2113.7M352.0 2195.5V2119.6M354.0 2193.3V2132.3M356.0 2194.8V2117.7M358.0 2195.9V2111.4M360.0 2185.3V2150.5M362.0 2179.3V2129.6M364.0 2190.9V2149.4M366.0 2196.5V2155.9M368.0 2193.3V2154.8M370.0 2195.5V2146.1M370.0 2190.8V2147.7M372.0 2176.4V2154.2M374.0 2189.9V2146.8M376.0 2186.6V2120.9M378.0 2190.6V2160.2M380.0 2192.1V2142.7M382.0 2196.0V2121.2M384.0 2192.6V2152.3M386.0 2179.7V2159.7M388.0 2193.9V2159.5M390.0 2194.6V2159.5M392.0 2187.3V2136.8M394.0 2180.8V2153.9M396.0 2186.1V2149.2M398.0 2182.7V2130.3M400.0 2181.2V2161.8M402.0 2180.9V2166.3M404.0 2195.7V2151.6M406.0 2187.2V2125.2M408.0 2196.5V2123.3M410.0 2183.6V2150.3M412.0 2192.1V2125.7M414.0 2191.4V2155.1M416.0 2191.2V2162.1M418.0 2191.1V2148.7M420.0 2189.6V2153.4M422.0 2188.1V2152.6M424.0 2186.1V2165.7M426.0 2188.5V2161.2M428.0 2174.4V2161.8M430.0 2183.2V2152.6M430.0 2180.2V2154.5M432.0 2187.3V2163.6M434.0 2181.9V2137.2M436.0 2194.2V2166.9M438.0 2194.6V2137.3M440.0 2195.9V2146.5M440.0 2192.0V2147.9M442.0 2196.5V2165.6M444.0 2182.0V2151.0M446.0 2181.7V2162.9M448.0 2182.7V2165.9M450.0 2182.0V2170.8M452.0 2187.2V2134.8M454.0 2187.8V2137.4M456.0 2185.3V2166.7M456.0 2183.4V2167.2M458.0 2196.5V2127.4M460.0 2183.1V2159.9M462.0 2190.2V2157.1M464.0 2192.6V2162.5M466.0 2191.2V2164.9M468.0 2183.5V2131.0M468.0 2180.0V2132.7M470.0 2189.7V2159.3M472.0 2181.5V2136.5M474.0 2196.5V2158.5M476.0 2191.1V2149.7M478.0 2182.8V2162.0M480.0 2183.7V2129.1M480.0 2180.5V2130.7M482.0 2186.6V2128.0M484.0 2196.4V2169.4M486.0 2189.0V2163.7M488.0 2192.4V2157.3M488.0 2190.2V2160.3M490.0 2196.3V2162.4M492.0 2195.4V2161.3M494.0 2190.8V2156.6M496.0 2184.8V2156.4M498.0 2190.4V2141.5M500.0 2189.0V2157.6M502.0 2185.4V2161.3M504.0 2186.2V2125.8M504.0 2182.2V2128.1M506.0 2181.4V2119.6M508.0 2180.9V2119.7M510.0 2191.9V2163.6M512.0 2178.0V2150.6M514.0 2196.5V2131.5M516.0 2194.5V2120.0M518.0 2194.0V2120.1M520.0 2191.5V2139.6M522.0 2190.0V2125.7M524.0 2191.5V2125.4M526.0 2187.5V2120.4M526.0 2184.6V2120.4M528.0 2189.3V2143.4M530.0 2193.2V2130.8M532.0 2189.0V2170.6M534.0 2194.9V2158.2M536.0 2196.5V2148.7M538.0 2185.7V2123.8M540.0 2187.0V2145.9M542.0 2191.2V2133.5M544.0 2189.6V2144.2M546.0 2181.9V2151.0M548.0 2187.7V2161.7M550.0 2190.0V2170.3M552.0 2190.2V2164.1M554.0 2194.1V2173.0M556.0 2196.5V2161.8M558.0 2189.9V2169.6M560.0 2194.2V2174.9M562.0 2196.5V2162.5M564.0 2196.5V2176.8M566.0 2196.5V2177.4M568.0 2194.5V2161.6M570.0 2191.3V2171.2M572.0 2193.7V2175.7M574.0 2194.2V2174.0M576.0 2191.5V2181.0M578.0 2196.0V2175.7M580.0 2196.2V2177.1M582.0 2196.5V2177.9M584.0 2195.6V2184.6M586.0 2194.8V2180.0M588.0 2194.5V2164.4M590.0 2191.6V2165.3M590.0 2190.2V2170.3M592.0 2192.1V2178.9M594.0 2196.3V2181.2M596.0 2196.5V2180.9M598.0 2195.0V2176.8M600.0 2195.8V2166.2M602.0 2196.0V2182.3M604.0 2192.8V2178.2M606.0 2191.7V2180.2M608.0 2192.6V2177.8M610.0 2195.4V2179.1M612.0 2196.5V2177.8M614.0 2196.5V2167.8M616.0 2196.5V2168.1M618.0 2196.5V2176.1M620.0 2196.5V2174.4M622.0 2195.3V2180.1M624.0 2193.2V2183.8M626.0 2195.2V2185.5M628.0 2195.9V2183.2M630.0 2196.5V2175.6M632.0 2196.5V2183.0M634.0 2190.9V2175.0M636.0 2190.5V2177.0M638.0 2196.5V2165.5M640.0 2196.5V2164.6M642.0 2193.6V2171.8M644.0 2196.5V2167.9M646.0 2193.9V2168.7M648.0 2192.6V2156.0M650.0 2192.5V2151.9M652.0 2195.4V2175.1M654.0 2192.7V2174.5M656.0 2196.5V2153.0M658.0 2196.5V2153.1M660.0 2196.5V2173.6M662.0 2187.5V2171.4M664.0 2188.5V2178.3M666.0 2194.9V2182.1M668.0 2187.6V2174.9M670.0 2192.1V2169.0M672.0 2191.2V2167.0M674.0 2189.0V2173.0M676.0 2196.5V2156.6M678.0 2189.7V2178.8M680.0 2191.3V2181.3M682.0 2196.5V2179.8M684.0 2196.5V2175.8M686.0 2190.9V2178.1M688.0 2192.8V2165.5M690.0 2194.9V2172.0M692.0 2196.5V2164.0M694.0 2192.9V2176.4M696.0 2188.1V2175.6M698.0 2196.5V2167.6M700.0 2191.9V2168.7M702.0 2196.5V2168.2M704.0 2195.9V2162.7M706.0 2192.4V2181.1M708.0 2196.5V2182.8M710.0 2196.5V2186.7M712.0 2195.1V2169.7M712.0 2190.0V2172.9M714.0 2193.4V2169.0M716.0 2192.7V2175.1M716.0 2190.3V2177.3M718.0 2196.5V2175.3M720.0 2196.5V2171.9M722.0 2195.5V2178.8M724.0 2196.5V2176.8M726.0 2194.6V2177.8M728.0 2196.5V2179.9M730.0 2196.5V2171.9M732.0 2196.5V2167.5M734.0 2194.5V2176.0M736.0 2196.5V2171.9M738.0 2196.5V2173.4M740.0 2196.5V2172.8M742.0 2196.5V2183.4M744.0 2196.5V2184.0M746.0 2194.3V2185.9M748.0 2196.3V2185.7M750.0 2196.5V2184.5M752.0 2196.5V2172.3M752.0 2195.4V2175.4M754.0 2196.2V2182.9M756.0 2196.5V2182.5M758.0 2196.5V2183.8M760.0 2195.3V2184.0M762.0 2196.5V2181.7M764.0 2196.5V2175.9M766.0 2195.8V2188.3M768.0 2196.5V2182.9M770.0 2195.7V2177.2M772.0 2196.5V2174.0M774.0 2196.5V2186.0M776.0 2196.1V2173.6M778.0 2196.5V2174.1M780.0 2196.5V2185.4M782.0 2196.3V2184.9M784.0 2196.5V2186.4M786.0 2195.0V2188.2M788.0 2194.9V2175.2M790.0 2196.5V2185.8M792.0 2196.5V2180.6M794.0 2196.1V2186.6M796.0 2195.9V2177.3M796.0 2191.6V2177.6M798.0 2196.5V2185.9M800.0 2196.5V2185.9M802.0 2196.5V2186.1M804.0 2196.5V2179.1M804.0 2193.2V2181.2M806.0 2195.6V2183.1M808.0 2196.5V2178.9M810.0 2196.2V2182.3M812.0 2196.5V2176.1M814.0 2196.5V2185.8M816.0 2196.5V2185.9M818.0 2194.2V2187.0M820.0 2196.5V2182.8M822.0 2196.5V2186.1M824.0 2194.2V2186.4M826.0 2196.5V2180.2M828.0 2196.5V2187.5M830.0 2196.5V2183.3M832.0 2194.6V2189.9M834.0 2196.5V2186.3M836.0 2196.5V2188.7M838.0 2196.5V2189.1M840.0 2196.5V2188.9M842.0 2196.1V2183.3M844.0 2196.1V2186.6M846.0 2196.5V2186.9M848.0 2196.5V2180.7M850.0 2196.5V2180.8M852.0 2196.5V2190.1M854.0 2196.5V2184.1M856.0 2196.5V2187.0M858.0 2196.5V2188.0M860.0 2196.5V2188.0M862.0 2196.5V2183.4M864.0 2196.5V2187.2M866.0 2196.5V2189.9M866.0 2195.2V2192.4M868.0 2196.5V2188.4M870.0 2196.5V2189.2M872.0 2196.5V2190.8M874.0 2196.5V2189.5M876.0 2196.5V2191.1M878.0 2196.5V2188.8M880.0 2196.5V2192.5M882.0 2196.3V2190.3M884.0 2196.5V2189.7M886.0 2196.5V2190.5M888.0 2196.5V2192.7M890.0 2196.5V2190.1M892.0 2196.5V2193.0M894.0 2196.5V2190.9M896.0 2196.5V2188.8M898.0 2196.4V2189.8M900.0 2196.5V2192.2M902.0 2196.5V2192.1M904.0 2196.5V2190.3M906.0 2196.5V2192.6M908.0 2196.5V2192.7M910.0 2196.5V2189.4M912.0 2196.5V2189.5M914.0 2196.5V2189.3M914.0 2194.0V2192.1M916.0 2196.5V2190.1M916.0 2194.9V2192.8M918.0 2196.5V2191.6M920.0 2196.1V2190.5M920.0 2195.0V2192.7M922.0 2196.5V2191.4M924.0 2196.5V2189.6M924.0 2194.5V2192.4M926.0 2196.5V2187.5M928.0 2196.5V2189.0M930.0 2196.5V2189.8M932.0 2196.5V2188.8M934.0 2196.5V2186.2M936.0 2196.5V2185.2M938.0 2196.5V2187.7M940.0 2196.5V2185.8M942.0 2196.5V2190.7M944.0 2196.5V2184.9M946.0 2196.5V2189.2M948.0 2196.5V2186.2M950.0 2196.5V2185.7M950.0 2195.2V2187.4M952.0 2196.5V2189.1M954.0 2196.5V2184.7M956.0 2196.0V2190.5M958.0 2196.5V2190.2M960.0 2196.1V2185.1M962.0 2196.5V2190.8M964.0 2196.5V2191.2M966.0 2196.5V2189.9M968.0 2196.5V2188.2M970.0 2196.5V2190.6M972.0 2196.5V2191.9M974.0 2196.5V2190.8M976.0 2196.5V2186.8M976.0 2196.4V2187.4M978.0 2196.5V2189.6M978.0 2194.2V2191.7M980.0 2196.5V2191.1M982.0 2196.5V2185.6M984.0 2196.5V2190.0M986.0 2196.5V2191.9M988.0 2196.5V2189.4M990.0 2196.5V2189.7M992.0 2196.5V2191.0M994.0 2196.5V2190.5M996.0 2196.5V2185.4M996.0 2195.4V2188.2M998.0 2196.5V2188.6M1000.0 2196.5V2190.7M1002.0 2196.5V2184.3M1004.0 2196.5V2189.4M1006.0 2196.4V2189.8M1008.0 2196.5V2190.3M1010.0 2196.5V2184.3M1012.0 2196.5V2184.4M1014.0 2196.5V2190.8M1016.0 2196.5V2188.4M1016.0 2194.3V2190.7M1018.0 2196.2V2186.1M1020.0 2196.5V2184.7M1022.0 2196.5V2185.5M1024.0 2196.5V2184.4M1026.0 2196.5V2186.8M1028.0 2196.5V2186.9M1028.0 2195.4V2189.6M1030.0 2196.5V2190.6M1032.0 2196.5V2190.1M1034.0 2196.5V2187.6M1036.0 2196.5V2187.5M1038.0 2196.5V2185.8M1040.0 2196.5V2190.0M1042.0 2196.5V2192.0M1042.0 2196.3V2193.6M1044.0 2196.5V2192.1M1046.0 2196.5V2190.8M1048.0 2196.5V2189.9M1050.0 2196.5V2190.5M1052.0 2196.5V2189.8M1054.0 2195.3V2191.3M1056.0 2196.5V2189.8M1058.0 2196.5V2185.3M1060.0 2195.8V2190.4M1062.0 2196.3V2188.8M1064.0 2196.5V2186.3M1066.0 2196.5V2189.7M1068.0 2196.5V2189.2M1070.0 2196.5V2188.6M1072.0 2196.5V2192.1M1074.0 2196.5V2191.6M1076.0 2196.5V2189.9M1078.0 2195.7V2190.5M1078.0 2195.0V2193.2M1080.0 2196.5V2187.2M1082.0 2196.5V2187.6M1084.0 2196.5V2188.8M1086.0 2196.5V2189.7M1088.0 2196.4V2189.7M1090.0 2196.5V2183.4M1092.0 2196.5V2183.4M1094.0 2196.5V2184.8M1096.0 2195.8V2188.5M1098.0 2196.5V2189.5M1100.0 2196.5V2190.0M1102.0 2196.5V2183.3M1104.0 2196.5V2183.4M1106.0 2196.5V2187.9M1106.0 2194.3V2190.1M1108.0 2196.3V2188.7M1110.0 2196.5V2188.5M1112.0 2196.5V2187.7M1114.0 2196.5V2184.9M1116.0 2196.4V2190.6M1118.0 2196.5V2189.2M1120.0 2196.5V2189.8M1122.0 2196.5V2183.7M1124.0 2196.5V2184.9M1126.0 2196.5V2190.3M1128.0 2194.3V2185.1M1130.0 2196.5V2189.9M1132.0 2196.5V2190.6M1134.0 2196.5V2186.8M1136.0 2196.5V2188.8M1138.0 2196.5V2184.5M1140.0 2196.5V2189.7M1142.0 2196.5V2184.4M1144.0 2196.5V2184.1M1146.0 2196.5V2185.1M1148.0 2196.5V2188.4M1150.0 2196.5V2190.8M1152.0 2196.5V2189.6M1154.0 2196.5V2186.5M1156.0 2196.5V2186.3M1158.0 2196.5V2186.7M1160.0 2196.5V2191.4M1162.0 2196.5V2190.5M1164.0 2196.5V2190.7M1166.0 2196.5V2191.0M1168.0 2196.5V2192.7M1170.0 2196.5V2192.0M1172.0 2196.5V2190.5M1174.0 2196.5V2190.6M1176.0 2196.5V2192.2M1178.0 2196.5V2191.4M1180.0 2196.5V2190.5M1182.0 2196.5V2190.5M1184.0 2196.5V2192.7M1186.0 2196.5V2191.6M1188.0 2196.5V2190.5M1190.0 2196.5V2190.5M1192.0 2196.5V2192.2M1194.0 2196.5V2193.1M1196.0 2196.5V2193.2M1198.0 2196.5V2193.2M1200.0 2196.5V2193.2M1202.0 2196.5V2193.3M1204.0 2196.5V2193.3M1206.0 2196.5V2193.5M1206.0 2196.5V2194.9M1208.0 2196.5V2193.4M1210.0 2196.5V2193.7M1212.0 2196.5V2193.5M1214.0 2196.5V2193.5M1214.0 2196.5V2195.2M1216.0 2196.5V2193.5M1218.0 2196.5V2193.6M1220.0 2196.5V2193.6M1222.0 2196.5V2194.1M1224.0 2196.5V2194.3M1226.0 2196.5V2195.6" fill="none" stroke="#9ccaec" stroke-width="2" shape-rendering="crispEdges"/>
<path d="M280.0 2173.3V2110.5M282.0 2180.1V2154.9M284.0 2169.0V2139.4M286.0 2188.1V2118.3M288.0 2188.4V2114.8M290.0 2187.8V2150.4M292.0 2176.3V2152.9M294.0 2189.5V2149.7M296.0 2175.5V2111.7M298.0 2172.8V2145.2M300.0 2171.1V2146.6M302.0 2174.2V2153.8M302.0 2174.1V2154.0M304.0 2170.8V2142.8M306.0 2165.7V2146.1M306.0 2164.8V2146.8M308.0 2163.6V2142.5M310.0 2195.4V2156.8M312.0 2177.9V2157.7M314.0 2192.5V2146.2M316.0 2169.2V2112.3M316.0 2168.3V2113.5M318.0 2181.4V2122.2M320.0 2165.0V2153.6M322.0 2181.2V2119.0M322.0 2180.3V2119.5M324.0 2174.2V2138.4M326.0 2187.5V2144.5M328.0 2175.1V2112.3M330.0 2188.6V2132.7M330.0 2188.6V2132.8M332.0 2176.9V2106.0M332.0 2176.6V2106.2M334.0 2194.4V2118.9M336.0 2191.7V2122.0M338.0 2186.8V2112.8M340.0 2179.2V2152.4M342.0 2187.9V2155.9M344.0 2173.9V2114.5M344.0 2173.7V2114.8M346.0 2177.0V2121.0M348.0 2180.0V2105.9M350.0 2177.6V2115.9M352.0 2192.3V2122.0M354.0 2190.5V2134.7M356.0 2192.2V2118.2M356.0 2191.5V2118.7M358.0 2195.3V2111.6M360.0 2182.7V2152.7M362.0 2175.6V2129.6M364.0 2188.1V2150.6M366.0 2194.2V2156.3M366.0 2192.2V2157.0M368.0 2190.3V2156.8M368.0 2190.3V2157.5M370.0 2191.7V2147.2M372.0 2174.5V2154.4M374.0 2187.6V2158.5M376.0 2186.5V2123.2M376.0 2186.5V2124.1M378.0 2187.2V2161.0M380.0 2189.0V2145.2M382.0 2193.5V2144.0M384.0 2191.3V2154.7M386.0 2176.3V2160.0M388.0 2190.3V2160.2M388.0 2189.8V2161.1M390.0 2193.6V2160.0M392.0 2184.1V2136.9M392.0 2182.7V2137.6M394.0 2180.6V2156.1M396.0 2185.5V2149.9M398.0 2179.4V2150.7M400.0 2177.8V2162.9M402.0 2177.9V2168.7M402.0 2176.0V2169.8M404.0 2192.4V2151.7M406.0 2185.0V2127.2M408.0 2193.5V2125.5M408.0 2192.7V2126.8M410.0 2181.8V2151.5M412.0 2189.5V2127.6M414.0 2190.8V2155.2M416.0 2190.9V2163.8M418.0 2189.0V2150.7M418.0 2187.6V2151.1M420.0 2187.0V2154.6M420.0 2186.0V2155.1M422.0 2184.6V2154.3M422.0 2182.9V2155.1M424.0 2183.2V2166.6M424.0 2182.5V2166.6M426.0 2187.2V2162.9M426.0 2185.4V2163.6M428.0 2174.2V2163.0M430.0 2181.3V2153.9M432.0 2186.3V2165.1M434.0 2179.4V2138.2M436.0 2193.3V2169.2M438.0 2194.5V2137.9M438.0 2193.1V2138.8M440.0 2192.0V2147.8M442.0 2195.4V2167.5M444.0 2178.8V2152.8M444.0 2177.6V2153.1M446.0 2180.8V2165.1M448.0 2179.3V2166.0M450.0 2179.2V2170.9M452.0 2185.5V2137.2M454.0 2184.6V2138.5M456.0 2185.2V2167.1M458.0 2195.5V2127.6M458.0 2193.7V2128.5M460.0 2180.8V2160.1M462.0 2188.6V2157.8M464.0 2191.3V2163.5M466.0 2188.9V2166.5M468.0 2181.9V2131.8M470.0 2185.7V2161.2M472.0 2180.2V2138.1M474.0 2193.6V2159.2M476.0 2187.2V2150.5M476.0 2186.5V2151.6M478.0 2180.1V2164.3M480.0 2181.3V2130.7M482.0 2186.4V2129.0M484.0 2195.6V2170.8M484.0 2193.8V2171.0M486.0 2187.5V2164.5M486.0 2186.5V2165.1M488.0 2191.1V2159.5M490.0 2193.1V2162.8M490.0 2191.9V2163.9M492.0 2194.3V2169.8M494.0 2190.2V2157.0M496.0 2184.3V2158.5M498.0 2188.3V2142.9M500.0 2187.4V2159.3M500.0 2185.7V2159.6M502.0 2184.8V2161.8M502.0 2183.4V2162.2M504.0 2184.0V2127.7M506.0 2180.8V2119.6M506.0 2179.6V2119.6M508.0 2177.0V2121.5M510.0 2189.0V2163.7M512.0 2177.0V2152.4M514.0 2194.1V2132.7M514.0 2192.1V2132.9M516.0 2193.6V2120.0M518.0 2190.4V2120.1M520.0 2187.6V2139.7M522.0 2187.8V2126.2M522.0 2187.3V2126.6M524.0 2188.2V2125.8M526.0 2185.1V2120.4M528.0 2186.2V2145.5M528.0 2184.6V2146.4M530.0 2189.8V2131.4M532.0 2186.0V2172.8M534.0 2192.4V2158.4M536.0 2195.5V2149.6M538.0 2184.1V2126.0M540.0 2185.7V2147.0M542.0 2189.9V2134.7M544.0 2189.0V2144.9M546.0 2179.0V2152.8M548.0 2186.9V2163.9M548.0 2186.8V2164.7M550.0 2187.7V2171.0M552.0 2187.3V2164.7M554.0 2191.5V2173.9M556.0 2195.8V2162.2M558.0 2188.7V2169.8M560.0 2191.6V2175.9M562.0 2196.5V2163.9M562.0 2195.5V2164.2M564.0 2193.7V2177.1M566.0 2196.5V2179.0M566.0 2195.3V2179.3M568.0 2192.8V2161.9M570.0 2190.9V2172.5M572.0 2193.6V2176.5M574.0 2192.9V2174.7M576.0 2188.9V2183.1M578.0 2195.2V2175.9M580.0 2194.1V2179.2M582.0 2194.8V2179.6M584.0 2193.7V2186.4M586.0 2191.6V2180.3M586.0 2191.0V2180.9M588.0 2194.4V2166.6M590.0 2190.4V2169.8M592.0 2188.8V2179.5M594.0 2192.9V2182.7M596.0 2194.9V2182.0M598.0 2192.9V2178.9M600.0 2193.1V2167.8M600.0 2192.5V2168.2M602.0 2194.9V2184.0M604.0 2191.7V2180.2M604.0 2190.5V2180.4M606.0 2190.6V2181.2M608.0 2191.4V2178.8M608.0 2191.0V2179.4M610.0 2191.5V2179.6M612.0 2196.5V2178.9M614.0 2196.5V2168.5M616.0 2196.5V2170.4M616.0 2195.5V2170.9M618.0 2194.1V2176.3M620.0 2196.5V2175.3M620.0 2195.9V2176.1M622.0 2193.0V2182.1M622.0 2191.3V2183.3M624.0 2191.1V2185.9M626.0 2192.3V2186.3M628.0 2192.6V2185.3M630.0 2196.1V2180.7M632.0 2196.5V2184.8M634.0 2190.1V2177.0M636.0 2190.3V2177.5M638.0 2194.7V2167.8M638.0 2192.8V2168.9M640.0 2193.3V2165.0M640.0 2191.3V2165.1M642.0 2190.3V2173.8M644.0 2193.3V2169.9M646.0 2192.6V2170.4M648.0 2191.7V2160.8M650.0 2190.7V2160.6M652.0 2191.6V2177.6M654.0 2190.9V2176.4M656.0 2196.2V2154.4M656.0 2195.0V2155.6M658.0 2194.6V2154.2M660.0 2196.1V2174.5M660.0 2195.9V2175.9M662.0 2185.6V2171.5M662.0 2184.3V2172.0M664.0 2187.8V2178.9M666.0 2192.3V2182.3M666.0 2191.8V2182.4M668.0 2187.4V2176.3M670.0 2188.5V2171.3M672.0 2189.6V2168.6M674.0 2186.8V2174.0M674.0 2185.5V2174.6M676.0 2196.5V2156.9M678.0 2187.4V2180.4M680.0 2189.8V2182.4M680.0 2189.3V2182.4M682.0 2196.2V2181.0M684.0 2196.0V2178.2M684.0 2195.3V2178.8M686.0 2187.2V2179.4M688.0 2188.9V2167.0M688.0 2188.0V2167.2M690.0 2192.5V2174.1M692.0 2193.6V2165.8M694.0 2190.5V2176.9M696.0 2187.0V2176.9M698.0 2196.5V2182.8M700.0 2189.8V2169.6M700.0 2189.8V2170.4M702.0 2195.9V2169.5M702.0 2194.6V2170.0M704.0 2192.0V2163.1M706.0 2190.2V2182.1M708.0 2196.3V2185.1M710.0 2196.5V2187.3M712.0 2191.3V2171.7M714.0 2192.3V2171.4M716.0 2190.5V2176.6M718.0 2193.0V2175.7M720.0 2195.3V2174.3M722.0 2192.4V2180.2M724.0 2194.6V2178.6M726.0 2192.6V2179.8M728.0 2194.8V2180.3M728.0 2193.2V2181.1M730.0 2195.5V2172.5M732.0 2195.3V2168.7M734.0 2193.3V2176.2M734.0 2192.8V2177.4M736.0 2194.7V2172.3M738.0 2195.1V2175.6M738.0 2194.3V2176.1M740.0 2195.8V2173.8M742.0 2196.0V2183.4M744.0 2195.3V2185.4M746.0 2192.4V2186.4M748.0 2194.8V2186.5M750.0 2195.8V2185.9M752.0 2196.5V2174.4M754.0 2192.4V2184.1M756.0 2194.3V2184.1M758.0 2196.5V2186.2M760.0 2192.8V2186.5M760.0 2191.0V2186.9M762.0 2196.5V2181.9M764.0 2196.5V2176.4M766.0 2193.0V2188.9M766.0 2192.3V2189.3M768.0 2196.5V2185.0M768.0 2196.1V2186.5M770.0 2194.4V2179.0M772.0 2195.0V2175.0M774.0 2195.0V2186.8M776.0 2194.9V2174.4M778.0 2193.1V2175.1M780.0 2196.5V2186.8M780.0 2196.2V2187.1M782.0 2194.7V2186.1M784.0 2194.4V2186.9M786.0 2194.9V2188.3M788.0 2192.1V2177.3M790.0 2196.5V2188.1M792.0 2196.5V2188.8M794.0 2193.8V2189.0M796.0 2192.6V2177.3M798.0 2196.5V2186.5M800.0 2196.2V2186.5M802.0 2195.2V2186.8M804.0 2193.5V2180.0M806.0 2194.5V2183.8M806.0 2194.1V2184.1M808.0 2194.6V2180.1M810.0 2194.5V2183.8M810.0 2194.1V2184.0M812.0 2194.7V2180.1M814.0 2195.8V2185.8M816.0 2196.5V2187.8M818.0 2193.1V2188.9M820.0 2196.5V2183.9M820.0 2195.8V2184.7M822.0 2196.5V2187.1M824.0 2194.0V2188.0M826.0 2196.5V2181.6M826.0 2196.0V2182.5M828.0 2196.5V2189.2M830.0 2193.8V2188.9M830.0 2192.7V2190.2M832.0 2193.5V2190.6M832.0 2193.3V2191.2M834.0 2196.5V2188.2M834.0 2195.8V2189.5M836.0 2195.8V2191.0M836.0 2194.5V2191.7M838.0 2196.5V2189.5M840.0 2196.5V2189.8M842.0 2195.8V2183.6M844.0 2194.4V2188.6M846.0 2194.6V2189.0M848.0 2196.5V2180.8M850.0 2196.5V2180.8M850.0 2196.0V2180.8M852.0 2195.4V2192.0M854.0 2194.6V2185.3M854.0 2194.1V2185.3M856.0 2196.5V2188.5M858.0 2196.5V2189.2M860.0 2193.5V2188.9M862.0 2196.5V2184.9M864.0 2196.5V2190.7M866.0 2196.5V2191.6M868.0 2195.1V2189.5M868.0 2195.0V2190.8M870.0 2196.5V2190.8M872.0 2196.5V2192.7M874.0 2196.5V2191.0M876.0 2196.2V2192.8M876.0 2196.0V2193.1M878.0 2196.5V2191.2M880.0 2196.5V2193.2M882.0 2195.2V2192.4M884.0 2194.9V2191.2M886.0 2196.4V2192.2M886.0 2195.7V2193.2M888.0 2195.9V2193.6M888.0 2195.5V2193.8M890.0 2196.5V2192.5M892.0 2196.5V2193.2M894.0 2196.5V2192.1M896.0 2196.5V2190.7M898.0 2196.2V2191.6M898.0 2195.8V2192.7M900.0 2196.5V2192.7M902.0 2196.5V2193.1M902.0 2196.1V2193.3M904.0 2196.0V2191.5M906.0 2196.5V2193.4M908.0 2196.5V2193.8M910.0 2196.5V2190.1M910.0 2195.3V2190.1M912.0 2196.5V2191.9M914.0 2194.9V2191.2M916.0 2195.7V2191.4M918.0 2194.8V2192.7M920.0 2195.2V2192.3M922.0 2194.9V2192.3M922.0 2194.8V2193.3M924.0 2195.6V2191.8M926.0 2195.2V2189.8M928.0 2196.4V2190.5M930.0 2196.3V2190.7M932.0 2196.1V2190.5M932.0 2195.5V2191.4M934.0 2196.5V2186.9M936.0 2196.5V2187.6M938.0 2196.5V2188.0M938.0 2195.8V2188.2M940.0 2196.5V2187.9M942.0 2196.2V2190.8M944.0 2196.5V2185.4M946.0 2196.5V2190.7M948.0 2196.5V2191.3M950.0 2196.5V2186.9M952.0 2196.5V2190.3M952.0 2195.9V2191.5M954.0 2196.5V2185.8M954.0 2196.5V2186.1M956.0 2195.0V2191.9M958.0 2196.5V2191.0M960.0 2195.1V2186.6M962.0 2195.8V2192.3M964.0 2195.4V2191.8M964.0 2195.0V2192.7M966.0 2195.4V2191.3M966.0 2195.0V2192.1M968.0 2195.9V2188.7M970.0 2196.5V2192.6M970.0 2196.5V2193.2M972.0 2196.5V2192.1M974.0 2196.4V2192.2M976.0 2196.5V2186.9M978.0 2195.6V2190.5M980.0 2195.5V2191.3M980.0 2194.9V2191.8M982.0 2196.5V2185.7M984.0 2196.5V2190.4M986.0 2196.5V2192.6M988.0 2196.4V2190.3M988.0 2195.8V2191.6M990.0 2196.5V2192.1M992.0 2196.5V2193.4M994.0 2196.5V2191.5M996.0 2196.5V2186.8M998.0 2196.5V2190.5M1000.0 2196.5V2191.4M1002.0 2195.7V2184.4M1004.0 2194.4V2190.7M1006.0 2195.1V2190.8M1008.0 2195.1V2192.8M1010.0 2196.5V2184.4M1012.0 2195.1V2184.9M1014.0 2195.4V2191.8M1014.0 2195.1V2192.3M1016.0 2195.5V2190.0M1018.0 2195.6V2189.5M1020.0 2196.2V2185.1M1022.0 2196.4V2186.3M1022.0 2195.2V2187.6M1024.0 2196.5V2186.7M1026.0 2196.5V2187.5M1028.0 2196.5V2188.8M1030.0 2196.5V2192.6M1030.0 2196.5V2193.1M1032.0 2196.0V2192.3M1032.0 2194.4V2192.4M1034.0 2196.5V2189.2M1036.0 2196.1V2189.2M1038.0 2196.1V2189.7M1040.0 2195.6V2191.2M1042.0 2196.3V2192.5M1044.0 2196.5V2193.0M1044.0 2196.5V2193.4M1046.0 2195.5V2192.4M1048.0 2196.4V2191.1M1048.0 2195.6V2192.5M1050.0 2196.5V2191.4M1052.0 2196.5V2191.3M1054.0 2194.7V2191.8M1056.0 2196.5V2191.1M1058.0 2196.5V2186.0M1060.0 2195.4V2191.5M1062.0 2195.5V2190.1M1064.0 2194.1V2190.8M1066.0 2196.5V2190.2M1066.0 2196.2V2190.9M1068.0 2196.5V2189.9M1070.0 2196.1V2188.9M1072.0 2196.5V2192.6M1074.0 2196.5V2192.9M1074.0 2196.5V2193.5M1076.0 2196.5V2191.3M1078.0 2195.4V2191.9M1080.0 2196.5V2189.2M1080.0 2196.2V2189.7M1082.0 2196.5V2189.8M1084.0 2196.5V2189.4M1086.0 2196.5V2190.4M1086.0 2195.4V2190.6M1088.0 2195.0V2190.8M1090.0 2195.5V2184.7M1092.0 2196.5V2183.5M1092.0 2195.4V2184.3M1094.0 2196.5V2189.3M1096.0 2195.8V2188.5M1096.0 2195.7V2189.7M1098.0 2196.5V2189.6M1100.0 2194.7V2191.8M1102.0 2196.5V2183.5M1102.0 2195.8V2184.1M1104.0 2195.8V2184.4M1104.0 2195.3V2185.8M1106.0 2196.1V2189.8M1108.0 2195.9V2189.9M1110.0 2196.1V2190.8M1112.0 2196.5V2189.2M1112.0 2195.5V2190.1M1114.0 2196.5V2186.3M1116.0 2196.2V2190.9M1118.0 2194.6V2191.3M1120.0 2196.1V2189.8M1120.0 2194.3V2190.1M1122.0 2196.4V2183.7M1124.0 2195.5V2185.0M1126.0 2195.9V2190.8M1128.0 2193.9V2187.6M1130.0 2195.3V2190.9M1130.0 2194.1V2192.0M1132.0 2195.4V2190.7M1134.0 2195.5V2190.7M1134.0 2195.5V2191.6M1136.0 2196.5V2190.7M1138.0 2196.5V2184.9M1140.0 2196.5V2190.8M1142.0 2196.0V2184.6M1144.0 2196.5V2185.8M1146.0 2196.5V2187.4M1148.0 2196.2V2190.8M1150.0 2196.0V2191.7M1152.0 2196.5V2190.7M1154.0 2196.5V2188.4M1156.0 2196.5V2187.0M1158.0 2196.5V2186.9M1160.0 2196.5V2192.4M1160.0 2195.9V2193.0M1162.0 2196.4V2191.1M1164.0 2196.5V2190.8M1164.0 2196.3V2191.4M1166.0 2196.5V2191.3M1168.0 2196.5V2194.1M1170.0 2196.5V2193.6M1170.0 2196.5V2194.2M1172.0 2196.5V2190.5M1174.0 2195.6V2192.3M1176.0 2196.5V2192.8M1178.0 2196.5V2192.3M1180.0 2196.5V2192.3M1180.0 2195.8V2192.4M1182.0 2196.5V2191.2M1184.0 2196.5V2194.1M1186.0 2196.5V2193.8M1188.0 2196.3V2191.4M1190.0 2196.5V2190.5M1190.0 2196.3V2191.5M1192.0 2196.5V2192.2M1192.0 2196.3V2192.2M1194.0 2196.5V2193.8M1196.0 2196.5V2193.2M1198.0 2196.5V2193.2M1200.0 2196.4V2193.4M1202.0 2196.5V2193.3M1204.0 2196.5V2193.3M1206.0 2196.5V2194.1M1208.0 2196.5V2193.8M1210.0 2196.5V2195.4M1212.0 2196.5V2194.2M1212.0 2196.5V2194.9M1214.0 2196.5V2193.7M1216.0 2196.5V2193.6M1218.0 2196.5V2193.6M1220.0 2196.5V2194.8M1220.0 2196.5V2195.5M1222.0 2196.5V2195.3M1224.0 2196.5V2194.3M1226.0 2196.5V2195.6" fill="none" stroke="#5b96cf" stroke-width="2" shape-rendering="crispEdges"/>
<path d="M280.0 2172.9V2111.8M282.0 2179.5V2155.3M284.0 2168.6V2139.8M286.0 2187.7V2118.9M288.0 2188.0V2115.2M290.0 2186.9V2150.6M292.0 2175.3V2153.2M294.0 2187.6V2151.0M296.0 2173.8V2113.1M298.0 2171.4V2146.2M304.0 2169.2V2143.9M308.0 2162.3V2143.1M312.0 2177.2V2159.2M314.0 2192.1V2147.1M318.0 2180.6V2122.5M320.0 2163.9V2154.9M324.0 2173.3V2138.7M326.0 2187.0V2145.4M328.0 2173.7V2112.3M334.0 2193.3V2119.7M336.0 2190.2V2123.0M338.0 2186.5V2114.2M340.0 2177.8V2153.3M342.0 2186.1V2157.2M348.0 2178.5V2106.5M350.0 2176.9V2116.3M352.0 2190.4V2122.8M354.0 2189.1V2135.9M358.0 2193.9V2111.9M360.0 2182.4V2153.0M362.0 2175.6V2130.9M364.0 2188.1V2152.1M372.0 2174.2V2155.8M374.0 2186.8V2159.2M378.0 2186.6V2162.4M380.0 2187.6V2145.6M382.0 2192.0V2145.1M384.0 2189.7V2155.2M386.0 2174.5V2160.6M390.0 2191.7V2160.2M394.0 2180.4V2157.4M396.0 2183.8V2150.6M398.0 2179.3V2152.0M400.0 2176.9V2163.2M404.0 2192.0V2152.1M406.0 2183.2V2127.5M410.0 2180.2V2152.0M412.0 2189.0V2129.1M414.0 2189.5V2156.6M416.0 2190.0V2164.9M428.0 2174.2V2164.2M432.0 2185.3V2165.9M434.0 2179.0V2138.7M436.0 2192.8V2170.7M442.0 2193.6V2168.2M446.0 2179.4V2165.8M448.0 2177.6V2166.5M450.0 2177.3V2170.9M452.0 2184.1V2138.6M454.0 2184.5V2138.7M460.0 2180.3V2161.2M462.0 2188.2V2158.1M464.0 2190.5V2164.1M466.0 2187.0V2167.2M470.0 2185.0V2162.0M472.0 2179.5V2138.3M474.0 2192.8V2159.9M478.0 2178.9V2165.6M482.0 2186.2V2129.2M492.0 2194.0V2171.2M494.0 2189.3V2157.1M496.0 2183.3V2158.5M498.0 2186.5V2143.3M508.0 2176.6V2122.8M510.0 2187.0V2164.3M512.0 2175.5V2152.6M516.0 2191.8V2120.0M518.0 2189.6V2120.1M520.0 2187.2V2141.1M524.0 2187.9V2126.5M530.0 2189.5V2131.6M532.0 2184.5V2174.0M534.0 2191.5V2159.0M536.0 2194.3V2150.2M538.0 2182.4V2127.1M540.0 2185.0V2147.7M542.0 2189.3V2135.9M544.0 2188.6V2145.7M546.0 2178.5V2153.6M550.0 2186.4V2172.5M552.0 2185.9V2165.4M554.0 2191.0V2174.3M556.0 2194.2V2163.3M558.0 2187.8V2171.2M560.0 2190.2V2176.6M564.0 2192.6V2177.9M568.0 2191.5V2161.9M570.0 2190.4V2173.6M572.0 2192.0V2177.0M574.0 2191.7V2176.0M576.0 2188.9V2184.3M578.0 2194.6V2176.3M580.0 2193.3V2179.7M582.0 2193.4V2180.0M584.0 2193.1V2186.8M588.0 2194.1V2167.3M592.0 2188.1V2180.4M594.0 2192.8V2183.6M596.0 2193.0V2183.4M598.0 2192.0V2179.1M602.0 2194.7V2184.3M606.0 2189.7V2181.2M610.0 2190.5V2180.6M612.0 2195.7V2179.8M614.0 2196.0V2169.9M618.0 2193.6V2176.8M624.0 2189.3V2186.1M626.0 2190.5V2186.4M628.0 2190.7V2186.5M630.0 2195.8V2181.0M632.0 2195.8V2185.3M634.0 2188.5V2178.4M636.0 2189.1V2178.6M642.0 2188.9V2175.0M644.0 2192.9V2170.9M646.0 2192.0V2170.5M648.0 2190.4V2161.8M650.0 2190.5V2160.7M652.0 2190.1V2178.8M654.0 2190.1V2176.8M658.0 2193.3V2155.7M664.0 2187.1V2179.6M668.0 2186.3V2176.4M670.0 2187.9V2171.9M672.0 2188.1V2169.2M676.0 2195.8V2157.2M678.0 2186.8V2181.6M682.0 2195.1V2181.8M686.0 2185.9V2180.7M690.0 2191.3V2175.0M692.0 2193.1V2166.0M694.0 2189.1V2177.2M696.0 2187.0V2177.3M698.0 2195.3V2183.1M704.0 2191.3V2164.4M706.0 2190.0V2182.6M708.0 2195.1V2186.5M710.0 2195.2V2188.7M714.0 2190.6V2172.0M718.0 2192.2V2176.7M720.0 2194.3V2174.7M722.0 2192.2V2180.3M724.0 2193.6V2179.2M726.0 2192.5V2181.1M730.0 2194.5V2172.5M732.0 2194.6V2169.7M736.0 2194.0V2172.6M740.0 2195.3V2174.0M742.0 2194.4V2183.9M744.0 2194.6V2185.8M746.0 2191.8V2187.2M748.0 2193.9V2187.0M750.0 2194.8V2187.2M754.0 2192.0V2184.9M756.0 2192.7V2184.6M758.0 2195.9V2186.7M762.0 2196.1V2182.7M764.0 2196.2V2176.4M770.0 2192.9V2179.6M772.0 2195.0V2175.9M774.0 2194.2V2187.9M776.0 2194.4V2174.4M778.0 2191.3V2175.2M782.0 2193.2V2186.4M784.0 2193.7V2187.5M786.0 2193.6V2188.4M788.0 2190.9V2177.3M790.0 2196.4V2188.9M792.0 2196.3V2190.0M794.0 2191.9V2190.3M798.0 2195.2V2187.2M800.0 2195.0V2187.8M802.0 2194.7V2188.2M808.0 2194.1V2181.0M812.0 2192.9V2181.4M814.0 2195.6V2186.0M816.0 2195.7V2188.3M818.0 2192.7V2189.6M822.0 2195.9V2187.2M824.0 2193.1V2188.9M828.0 2196.5V2190.1M838.0 2196.2V2190.8M840.0 2196.1V2190.4M842.0 2194.1V2184.6M844.0 2194.3V2189.4M846.0 2194.1V2190.0M848.0 2195.9V2182.2M852.0 2194.5V2192.5M856.0 2196.1V2188.5M858.0 2195.7V2189.4M860.0 2193.4V2189.5M862.0 2195.5V2186.2M864.0 2195.5V2191.5M870.0 2194.9V2191.5M872.0 2196.1V2192.7M874.0 2195.9V2191.8M878.0 2196.0V2192.5M880.0 2196.5V2193.6M882.0 2194.9V2192.6M884.0 2194.7V2192.3M890.0 2195.6V2193.5M892.0 2195.7V2194.0M894.0 2195.7V2193.5M896.0 2195.9V2190.9M900.0 2196.2V2193.0M904.0 2195.2V2191.8M906.0 2196.5V2193.8M908.0 2196.4V2194.7M912.0 2194.8V2192.0M918.0 2194.5V2192.7M926.0 2194.6V2190.6M928.0 2195.8V2191.5M930.0 2196.0V2191.5M934.0 2196.5V2187.9M936.0 2196.5V2188.9M940.0 2195.9V2188.7M942.0 2194.7V2191.3M944.0 2196.2V2186.4M946.0 2195.6V2191.8M948.0 2196.2V2192.6M956.0 2194.9V2193.0M958.0 2196.3V2191.6M960.0 2194.5V2186.7M962.0 2195.1V2192.4M968.0 2194.5V2189.4M972.0 2196.5V2192.9M974.0 2195.4V2193.2M982.0 2195.0V2185.8M984.0 2196.1V2191.3M986.0 2196.5V2192.8M990.0 2195.9V2192.5M992.0 2195.7V2193.6M994.0 2195.2V2192.9M998.0 2195.9V2191.7M1000.0 2195.6V2191.7M1002.0 2195.5V2185.2M1004.0 2193.7V2191.5M1006.0 2194.9V2192.1M1008.0 2194.7V2192.9M1010.0 2196.1V2185.6M1012.0 2194.0V2185.0M1018.0 2194.0V2190.8M1020.0 2195.0V2186.1M1024.0 2196.4V2187.5M1026.0 2196.4V2187.7M1034.0 2195.5V2190.2M1036.0 2195.6V2190.3M1038.0 2195.2V2190.5M1040.0 2194.8V2191.5M1046.0 2195.4V2193.2M1050.0 2195.3V2192.3M1052.0 2196.1V2191.3M1054.0 2194.4V2192.2M1056.0 2196.5V2191.2M1058.0 2195.7V2186.6M1060.0 2195.1V2191.9M1062.0 2194.3V2191.3M1064.0 2193.9V2192.0M1068.0 2196.1V2190.0M1070.0 2196.0V2190.1M1072.0 2196.5V2193.3M1076.0 2196.5V2192.7M1082.0 2196.0V2190.3M1084.0 2195.0V2190.8M1088.0 2194.6V2192.1M1090.0 2194.6V2185.2M1094.0 2195.4V2190.3M1098.0 2196.5V2190.7M1100.0 2194.2V2192.1M1108.0 2194.9V2191.3M1110.0 2195.3V2191.6M1114.0 2195.4V2186.6M1116.0 2195.6V2192.4M1118.0 2194.5V2192.7M1122.0 2194.5V2185.1M1124.0 2194.5V2185.5M1126.0 2194.5V2192.2M1128.0 2193.6V2187.8M1132.0 2194.7V2191.6M1136.0 2195.6V2191.5M1138.0 2195.7V2185.7M1140.0 2195.8V2191.7M1142.0 2195.4V2185.5M1144.0 2196.4V2187.0M1146.0 2196.4V2187.9M1148.0 2195.8V2191.9M1150.0 2195.6V2192.2M1152.0 2195.7V2192.0M1154.0 2194.7V2189.0M1156.0 2196.2V2187.7M1158.0 2196.2V2187.4M1162.0 2196.0V2192.4M1166.0 2195.2V2192.5M1168.0 2196.5V2194.4M1172.0 2196.3V2191.4M1174.0 2195.5V2193.4M1176.0 2196.2V2194.2M1178.0 2196.5V2193.6M1182.0 2196.5V2191.2M1184.0 2196.1V2194.1M1186.0 2196.1V2194.0M1188.0 2196.2V2192.4M1194.0 2196.5V2194.9M1196.0 2196.5V2193.5M1198.0 2195.8V2193.7M1200.0 2195.6V2193.8M1202.0 2195.8V2194.2M1204.0 2196.2V2194.0M1208.0 2196.5V2194.8M1210.0 2196.5V2195.5M1216.0 2196.5V2195.0M1218.0 2195.9V2194.1M1222.0 2196.5V2195.8M1224.0 2196.5V2195.0M1226.0 2196.5V2195.6" fill="none" stroke="#3670bb" stroke-width="2" shape-rendering="crispEdges"/>
<path d="M588.0 2196.3V2001.1 M751.9 2196.3V2008.5 M915.0 2196.3V2117.8 M1078.8 2196.3V2133.4" fill="none" stroke="#5288c0" stroke-width="2.6"/>
<path d="M1228.0 2196.3V2187.5 M1242.0 2196.3V2189.8 M1064.0 2196.3V2181.8 M1303.0 2196.3V2194.8 M1315.0 2196.3V2194.8" fill="none" stroke="#3a73bd" stroke-width="1.8"/>
<rect x="276.5" y="1664.6" width="1082.0" height="533.7000000000003" fill="none" stroke="#030303" stroke-width="3"/>
<line x1="396.6" y1="2196.8" x2="396.6" y2="2185.3" stroke="#111111" stroke-width="3"/>
<line x1="534.4" y1="2196.8" x2="534.4" y2="2185.3" stroke="#111111" stroke-width="3"/>
<line x1="672.2" y1="2196.8" x2="672.2" y2="2185.3" stroke="#111111" stroke-width="3"/>
<line x1="810.0" y1="2196.8" x2="810.0" y2="2185.3" stroke="#111111" stroke-width="3"/>
<line x1="947.8" y1="2196.8" x2="947.8" y2="2185.3" stroke="#111111" stroke-width="3"/>
<line x1="1085.6" y1="2196.8" x2="1085.6" y2="2185.3" stroke="#111111" stroke-width="3"/>
<line x1="1223.4" y1="2196.8" x2="1223.4" y2="2185.3" stroke="#111111" stroke-width="3"/>
<text x="396.6" y="2255.3" text-anchor="middle" font-size="54">100</text>
<text x="534.4" y="2255.3" text-anchor="middle" font-size="54">200</text>
<text x="672.2" y="2255.3" text-anchor="middle" font-size="54">300</text>
<text x="810.0" y="2255.3" text-anchor="middle" font-size="54">400</text>
<text x="947.8" y="2255.3" text-anchor="middle" font-size="54">500</text>
<text x="1085.6" y="2255.3" text-anchor="middle" font-size="54">600</text>
<text x="1223.4" y="2255.3" text-anchor="middle" font-size="54">700</text>
<text x="1359.5" y="2255.3" text-anchor="middle" font-size="54">800</text>
<text x="257.5" y="2215.3" text-anchor="end" font-size="54">0</text>
<line x1="278.0" y1="2139.0" x2="290.5" y2="2139.0" stroke="#111111" stroke-width="3"/>
<text x="257.5" y="2156.0" text-anchor="end" font-size="54">0.5</text>
<line x1="278.0" y1="2079.7" x2="290.5" y2="2079.7" stroke="#111111" stroke-width="3"/>
<text x="257.5" y="2096.7" text-anchor="end" font-size="54">1.0</text>
<line x1="278.0" y1="2020.4" x2="290.5" y2="2020.4" stroke="#111111" stroke-width="3"/>
<text x="257.5" y="2037.4" text-anchor="end" font-size="54">1.5</text>
<line x1="278.0" y1="1961.1" x2="290.5" y2="1961.1" stroke="#111111" stroke-width="3"/>
<text x="257.5" y="1978.1" text-anchor="end" font-size="54">2.0</text>
<line x1="278.0" y1="1901.8" x2="290.5" y2="1901.8" stroke="#111111" stroke-width="3"/>
<text x="257.5" y="1918.8" text-anchor="end" font-size="54">2.5</text>
<line x1="278.0" y1="1842.5" x2="290.5" y2="1842.5" stroke="#111111" stroke-width="3"/>
<text x="257.5" y="1859.5" text-anchor="end" font-size="54">3.0</text>
<line x1="278.0" y1="1783.2" x2="290.5" y2="1783.2" stroke="#111111" stroke-width="3"/>
<text x="257.5" y="1800.2" text-anchor="end" font-size="54">3.5</text>
<line x1="278.0" y1="1723.9" x2="290.5" y2="1723.9" stroke="#111111" stroke-width="3"/>
<text x="257.5" y="1740.9" text-anchor="end" font-size="54">4.0</text>
<text x="257.5" y="1681.6" text-anchor="end" font-size="54">4.5</text>
<text transform="translate(143 1907.8) rotate(-90)" text-anchor="middle" font-size="52">幅值/10<tspan dy="-17" font-size="31">−10</tspan><tspan dy="17"> (m·s</tspan><tspan dy="-17" font-size="31">−2</tspan><tspan dy="17">)</tspan></text>
<text x="817.0" y="2339.3" text-anchor="middle" font-size="52">频率/Hz</text>
<text x="629.5" y="2408.8" font-size="52.4">(c) <tspan font-style="italic">n</tspan>=1 500 r/min</text>
<text x="438.7" y="1757.9" font-size="52">(119, 4.148×10<tspan dy="-17" font-size="30">−10</tspan><tspan dy="17">)</tspan></text>
<text x="543.7" y="1961.8" font-size="52">(237.7, 1.685×10<tspan dy="-17" font-size="30">−10</tspan><tspan dy="17">)</tspan></text>
<text x="768.7" y="2044.2" font-size="52">(356.8, 1.643×10<tspan dy="-17" font-size="30">−10</tspan><tspan dy="17">)</tspan></text>
<rect x="1091" y="2145" width="2.5" height="3" fill="#6d9ccb"/><rect x="421.9" y="1710" width="4.8" height="486.5" fill="#a9cfea"/><rect x="424.3" y="1710" width="2.4" height="72" fill="#6b8ba6"/><rect x="423.2" y="1782" width="1.4" height="414.5" fill="#5f93c4"/>
</svg></body></html>
